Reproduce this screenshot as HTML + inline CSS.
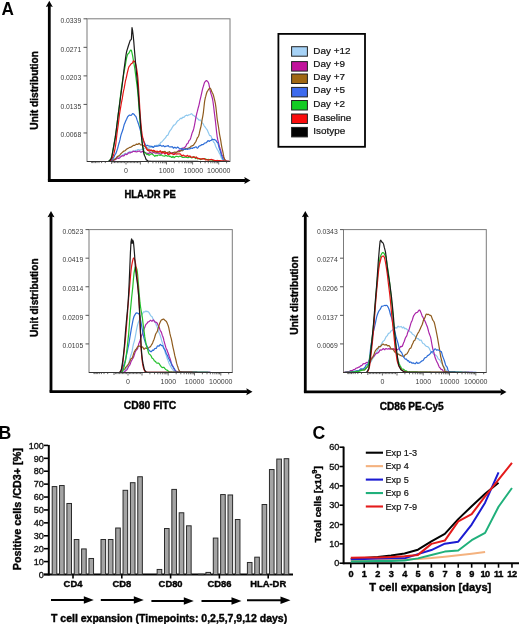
<!DOCTYPE html><html><head><meta charset="utf-8"><style>html,body{margin:0;padding:0;background:#fff;}svg{display:block;}</style></head><body><svg width="520" height="624" viewBox="0 0 520 624" font-family='"Liberation Sans", sans-serif'>
<rect width="520" height="624" fill="#fff"/>
<g opacity="0.995">
<text x="1.5" y="14.9" font-size="18" font-weight="bold" textLength="12.4" lengthAdjust="spacingAndGlyphs">A</text>
<text x="-1.5" y="439" font-size="17.7" font-weight="bold">B</text>
<text x="312.6" y="438.5" font-size="17.7" font-weight="bold">C</text>
<line x1="49.3" y1="180.5" x2="49.3" y2="5.8" stroke="#000" stroke-width="2.8"/>
<polygon points="45.8,7.0 49.3,0.8 52.8,7.0 49.3,6.0" fill="#000"/>
<line x1="47.9" y1="180.5" x2="245.5" y2="180.5" stroke="#000" stroke-width="2.8"/>
<polygon points="244.3,177.0 250.5,180.5 244.3,184.0 245.3,180.5" fill="#000"/>
<rect x="87" y="18.8" width="143" height="142.7" fill="none" stroke="#7a7a7a" stroke-width="1"/>
<line x1="83.5" y1="18.80" x2="87" y2="18.80" stroke="#555" stroke-width="1"/>
<text x="81.2" y="23.1" font-size="6.8" font-weight="normal" text-anchor="end" fill="#3a3a3a"  >0.0339</text>
<line x1="83.5" y1="47.34" x2="87" y2="47.34" stroke="#555" stroke-width="1"/>
<text x="81.2" y="51.64" font-size="6.8" font-weight="normal" text-anchor="end" fill="#3a3a3a"  >0.0271</text>
<line x1="83.5" y1="75.88" x2="87" y2="75.88" stroke="#555" stroke-width="1"/>
<text x="81.2" y="80.18" font-size="6.8" font-weight="normal" text-anchor="end" fill="#3a3a3a"  >0.0203</text>
<line x1="83.5" y1="104.42" x2="87" y2="104.42" stroke="#555" stroke-width="1"/>
<text x="81.2" y="108.72" font-size="6.8" font-weight="normal" text-anchor="end" fill="#3a3a3a"  >0.0135</text>
<line x1="83.5" y1="132.96" x2="87" y2="132.96" stroke="#555" stroke-width="1"/>
<text x="81.2" y="137.26" font-size="6.8" font-weight="normal" text-anchor="end" fill="#3a3a3a"  >0.0068</text>
<line x1="140.4" y1="161.5" x2="140.4" y2="164.5" stroke="#444" stroke-width="0.8"/>
<line x1="148.3" y1="161.5" x2="148.3" y2="163.3" stroke="#444" stroke-width="0.8"/>
<line x1="152.9" y1="161.5" x2="152.9" y2="163.3" stroke="#444" stroke-width="0.8"/>
<line x1="156.1" y1="161.5" x2="156.1" y2="163.3" stroke="#444" stroke-width="0.8"/>
<line x1="158.6" y1="161.5" x2="158.6" y2="163.3" stroke="#444" stroke-width="0.8"/>
<line x1="160.7" y1="161.5" x2="160.7" y2="163.3" stroke="#444" stroke-width="0.8"/>
<line x1="162.5" y1="161.5" x2="162.5" y2="163.3" stroke="#444" stroke-width="0.8"/>
<line x1="164.0" y1="161.5" x2="164.0" y2="163.3" stroke="#444" stroke-width="0.8"/>
<line x1="165.3" y1="161.5" x2="165.3" y2="163.3" stroke="#444" stroke-width="0.8"/>
<line x1="166.5" y1="161.5" x2="166.5" y2="164.5" stroke="#444" stroke-width="0.8"/>
<line x1="174.4" y1="161.5" x2="174.4" y2="163.3" stroke="#444" stroke-width="0.8"/>
<line x1="179.0" y1="161.5" x2="179.0" y2="163.3" stroke="#444" stroke-width="0.8"/>
<line x1="182.2" y1="161.5" x2="182.2" y2="163.3" stroke="#444" stroke-width="0.8"/>
<line x1="184.7" y1="161.5" x2="184.7" y2="163.3" stroke="#444" stroke-width="0.8"/>
<line x1="186.8" y1="161.5" x2="186.8" y2="163.3" stroke="#444" stroke-width="0.8"/>
<line x1="188.6" y1="161.5" x2="188.6" y2="163.3" stroke="#444" stroke-width="0.8"/>
<line x1="190.1" y1="161.5" x2="190.1" y2="163.3" stroke="#444" stroke-width="0.8"/>
<line x1="191.4" y1="161.5" x2="191.4" y2="163.3" stroke="#444" stroke-width="0.8"/>
<line x1="192.6" y1="161.5" x2="192.6" y2="164.5" stroke="#444" stroke-width="0.8"/>
<line x1="200.5" y1="161.5" x2="200.5" y2="163.3" stroke="#444" stroke-width="0.8"/>
<line x1="205.1" y1="161.5" x2="205.1" y2="163.3" stroke="#444" stroke-width="0.8"/>
<line x1="208.3" y1="161.5" x2="208.3" y2="163.3" stroke="#444" stroke-width="0.8"/>
<line x1="210.8" y1="161.5" x2="210.8" y2="163.3" stroke="#444" stroke-width="0.8"/>
<line x1="212.9" y1="161.5" x2="212.9" y2="163.3" stroke="#444" stroke-width="0.8"/>
<line x1="214.7" y1="161.5" x2="214.7" y2="163.3" stroke="#444" stroke-width="0.8"/>
<line x1="216.2" y1="161.5" x2="216.2" y2="163.3" stroke="#444" stroke-width="0.8"/>
<line x1="217.5" y1="161.5" x2="217.5" y2="163.3" stroke="#444" stroke-width="0.8"/>
<line x1="218.7" y1="161.5" x2="218.7" y2="164.5" stroke="#444" stroke-width="0.8"/>
<line x1="226.6" y1="161.5" x2="226.6" y2="163.3" stroke="#444" stroke-width="0.8"/>
<line x1="126.0" y1="161.5" x2="126.0" y2="164.5" stroke="#444" stroke-width="0.8"/>
<line x1="127.4" y1="161.5" x2="127.4" y2="163.1" stroke="#444" stroke-width="0.8"/>
<line x1="128.9" y1="161.5" x2="128.9" y2="163.1" stroke="#444" stroke-width="0.8"/>
<line x1="130.3" y1="161.5" x2="130.3" y2="163.1" stroke="#444" stroke-width="0.8"/>
<line x1="131.8" y1="161.5" x2="131.8" y2="163.1" stroke="#444" stroke-width="0.8"/>
<line x1="133.2" y1="161.5" x2="133.2" y2="163.1" stroke="#444" stroke-width="0.8"/>
<line x1="134.6" y1="161.5" x2="134.6" y2="163.1" stroke="#444" stroke-width="0.8"/>
<line x1="136.1" y1="161.5" x2="136.1" y2="163.1" stroke="#444" stroke-width="0.8"/>
<line x1="137.5" y1="161.5" x2="137.5" y2="163.1" stroke="#444" stroke-width="0.8"/>
<line x1="139.0" y1="161.5" x2="139.0" y2="163.1" stroke="#444" stroke-width="0.8"/>
<line x1="111.6" y1="161.5" x2="111.6" y2="164.0" stroke="#444" stroke-width="0.8"/>
<line x1="105.3" y1="161.5" x2="105.3" y2="163.1" stroke="#444" stroke-width="0.8"/>
<line x1="101.6" y1="161.5" x2="101.6" y2="163.1" stroke="#444" stroke-width="0.8"/>
<line x1="99.0" y1="161.5" x2="99.0" y2="163.1" stroke="#444" stroke-width="0.8"/>
<line x1="97.0" y1="161.5" x2="97.0" y2="163.1" stroke="#444" stroke-width="0.8"/>
<line x1="95.4" y1="161.5" x2="95.4" y2="163.1" stroke="#444" stroke-width="0.8"/>
<line x1="94.0" y1="161.5" x2="94.0" y2="163.1" stroke="#444" stroke-width="0.8"/>
<line x1="92.7" y1="161.5" x2="92.7" y2="163.1" stroke="#444" stroke-width="0.8"/>
<line x1="91.7" y1="161.5" x2="91.7" y2="163.1" stroke="#444" stroke-width="0.8"/>
<line x1="124.6" y1="161.5" x2="124.6" y2="163.1" stroke="#444" stroke-width="0.8"/>
<line x1="123.1" y1="161.5" x2="123.1" y2="163.1" stroke="#444" stroke-width="0.8"/>
<line x1="121.7" y1="161.5" x2="121.7" y2="163.1" stroke="#444" stroke-width="0.8"/>
<line x1="120.2" y1="161.5" x2="120.2" y2="163.1" stroke="#444" stroke-width="0.8"/>
<line x1="118.8" y1="161.5" x2="118.8" y2="163.1" stroke="#444" stroke-width="0.8"/>
<line x1="117.4" y1="161.5" x2="117.4" y2="163.1" stroke="#444" stroke-width="0.8"/>
<line x1="115.9" y1="161.5" x2="115.9" y2="163.1" stroke="#444" stroke-width="0.8"/>
<line x1="114.5" y1="161.5" x2="114.5" y2="163.1" stroke="#444" stroke-width="0.8"/>
<line x1="113.0" y1="161.5" x2="113.0" y2="163.1" stroke="#444" stroke-width="0.8"/>
<text x="126" y="173.4" font-size="7.0" font-weight="normal" text-anchor="middle" fill="#3a3a3a"  >0</text>
<text x="166.6" y="173.4" font-size="7.0" font-weight="normal" text-anchor="middle" fill="#3a3a3a"  >1000</text>
<text x="193.3" y="173.4" font-size="7.0" font-weight="normal" text-anchor="middle" fill="#3a3a3a"  >10000</text>
<text x="218.8" y="173.4" font-size="7.0" font-weight="normal" text-anchor="middle" fill="#3a3a3a"  >100000</text>
<path d="M87.00,161.50 L87.60,161.50 L88.20,161.50 L88.80,161.50 L89.40,161.50 L90.00,161.50 L90.60,161.50 L91.20,161.50 L91.80,161.50 L92.40,161.50 L93.00,161.50 L93.60,161.50 L94.20,161.50 L94.80,161.50 L95.40,161.50 L96.00,161.50 L96.60,161.50 L97.20,161.50 L97.80,161.50 L98.40,161.50 L99.00,161.50 L99.60,161.50 L100.20,161.50 L100.80,161.50 L101.40,161.50 L102.00,161.50 L102.60,161.50 L103.20,161.50 L103.80,161.50 L104.40,161.50 L105.00,161.50 L105.60,161.50 L106.20,161.50 L106.80,161.50 L107.40,161.50 L108.00,161.50 L108.60,161.50 L109.20,161.49 L109.80,161.35 L110.40,161.08 L111.00,160.76 L111.60,160.30 L112.20,159.79 L112.80,159.63 L113.40,159.44 L114.00,158.88 L114.60,158.73 L115.20,158.45 L115.80,158.22 L116.40,158.54 L117.00,157.94 L117.60,156.88 L118.20,156.81 L118.80,156.84 L119.40,156.54 L120.00,156.31 L120.60,156.07 L121.20,156.11 L121.80,155.88 L122.40,155.11 L123.00,154.66 L123.60,154.44 L124.20,154.04 L124.80,153.51 L125.40,153.34 L126.00,153.60 L126.60,153.93 L127.20,153.52 L127.80,152.46 L128.40,152.25 L129.00,152.19 L129.60,151.51 L130.20,151.46 L130.80,151.99 L131.40,152.30 L132.00,151.96 L132.60,151.26 L133.20,150.90 L133.80,151.14 L134.40,151.33 L135.00,150.78 L135.60,150.42 L136.20,150.47 L136.80,150.26 L137.40,149.81 L138.00,149.51 L138.60,149.55 L139.20,149.78 L139.80,150.11 L140.40,149.96 L141.00,149.60 L141.60,149.41 L142.20,149.30 L142.80,149.32 L143.40,149.16 L144.00,148.69 L144.60,148.26 L145.20,148.00 L145.80,147.32 L146.40,147.00 L147.00,147.39 L147.60,147.59 L148.20,148.19 L148.80,148.50 L149.40,147.61 L150.00,147.11 L150.60,147.41 L151.20,147.41 L151.80,147.04 L152.40,146.91 L153.00,147.07 L153.60,146.70 L154.20,146.06 L154.80,145.97 L155.40,145.80 L156.00,145.45 L156.60,145.32 L157.20,145.26 L157.80,145.37 L158.40,145.13 L159.00,144.50 L159.60,143.98 L160.20,143.31 L160.80,142.38 L161.40,142.10 L162.00,141.74 L162.60,140.93 L163.20,140.35 L163.80,139.61 L164.40,138.95 L165.00,138.31 L165.60,137.70 L166.20,136.64 L166.80,135.57 L167.40,135.52 L168.00,134.95 L168.60,133.42 L169.20,132.12 L169.80,131.02 L170.40,130.21 L171.00,129.64 L171.60,128.62 L172.20,127.51 L172.80,126.56 L173.40,125.57 L174.00,125.07 L174.60,124.91 L175.20,124.34 L175.80,123.60 L176.40,122.63 L177.00,121.59 L177.60,120.97 L178.20,120.54 L178.80,120.16 L179.40,119.66 L180.00,118.96 L180.60,118.23 L181.20,118.33 L181.80,118.59 L182.40,117.71 L183.00,117.03 L183.60,117.41 L184.20,117.24 L184.80,116.27 L185.40,115.84 L186.00,115.43 L186.60,115.15 L187.20,115.54 L187.80,115.54 L188.40,115.06 L189.00,114.80 L189.60,114.74 L190.20,114.47 L190.80,114.09 L191.40,113.69 L192.00,114.03 L192.60,114.91 L193.20,115.24 L193.80,115.61 L194.40,116.10 L195.00,116.40 L195.60,117.03 L196.20,117.73 L196.80,118.01 L197.40,118.29 L198.00,119.00 L198.60,119.78 L199.20,120.15 L199.80,120.17 L200.40,120.05 L201.00,120.52 L201.60,121.91 L202.20,122.87 L202.80,123.35 L203.40,124.30 L204.00,125.44 L204.60,126.46 L205.20,127.18 L205.80,127.99 L206.40,128.90 L207.00,129.60 L207.60,130.84 L208.20,132.24 L208.80,133.60 L209.40,135.10 L210.00,135.73 L210.60,135.62 L211.20,136.53 L211.80,138.24 L212.40,139.42 L213.00,140.85 L213.60,142.14 L214.20,142.46 L214.80,143.48 L215.40,145.50 L216.00,147.06 L216.60,148.21 L217.20,149.33 L217.80,150.13 L218.40,151.18 L219.00,152.62 L219.60,153.58 L220.20,154.69 L220.80,156.42 L221.40,157.93 L222.00,158.96 L222.60,159.84 L223.20,160.52 L223.80,160.75 L224.40,160.92 L225.00,161.07 L225.60,161.17 L226.20,161.27 L226.80,161.36 L227.40,161.41 L228.00,161.44 L228.60,161.47 L229.20,161.49 L229.80,161.50" fill="none" stroke="#8ec8ee" stroke-width="1.2" stroke-linejoin="round"/>
<path d="M87.00,161.50 L87.60,161.50 L88.20,161.50 L88.80,161.50 L89.40,161.50 L90.00,161.50 L90.60,161.50 L91.20,161.50 L91.80,161.50 L92.40,161.50 L93.00,161.50 L93.60,161.50 L94.20,161.50 L94.80,161.50 L95.40,161.50 L96.00,161.50 L96.60,161.50 L97.20,161.50 L97.80,161.50 L98.40,161.50 L99.00,161.50 L99.60,161.50 L100.20,161.50 L100.80,161.50 L101.40,161.50 L102.00,161.50 L102.60,161.50 L103.20,161.50 L103.80,161.50 L104.40,161.50 L105.00,161.50 L105.60,161.50 L106.20,161.50 L106.80,161.50 L107.40,161.50 L108.00,161.50 L108.60,161.50 L109.20,161.50 L109.80,161.50 L110.40,161.47 L111.00,161.36 L111.60,161.15 L112.20,160.85 L112.80,160.55 L113.40,160.34 L114.00,160.18 L114.60,159.85 L115.20,159.60 L115.80,159.43 L116.40,158.85 L117.00,158.07 L117.60,157.83 L118.20,158.33 L118.80,158.46 L119.40,157.98 L120.00,157.45 L120.60,156.89 L121.20,156.43 L121.80,155.99 L122.40,155.70 L123.00,155.83 L123.60,156.01 L124.20,155.53 L124.80,154.73 L125.40,154.13 L126.00,154.21 L126.60,154.63 L127.20,154.32 L127.80,153.63 L128.40,153.01 L129.00,152.63 L129.60,152.88 L130.20,153.02 L130.80,152.55 L131.40,152.19 L132.00,152.13 L132.60,151.77 L133.20,151.29 L133.80,151.23 L134.40,151.46 L135.00,151.57 L135.60,151.41 L136.20,151.73 L136.80,151.97 L137.40,151.36 L138.00,151.05 L138.60,151.29 L139.20,151.21 L139.80,151.10 L140.40,151.84 L141.00,152.35 L141.60,151.85 L142.20,151.40 L142.80,151.53 L143.40,151.80 L144.00,151.65 L144.60,152.01 L145.20,152.63 L145.80,152.68 L146.40,153.17 L147.00,153.53 L147.60,153.21 L148.20,153.39 L148.80,153.61 L149.40,152.98 L150.00,152.26 L150.60,152.18 L151.20,152.90 L151.80,153.67 L152.40,153.39 L153.00,152.56 L153.60,152.31 L154.20,152.65 L154.80,152.97 L155.40,153.04 L156.00,153.15 L156.60,153.18 L157.20,153.04 L157.80,153.11 L158.40,153.23 L159.00,153.31 L159.60,153.79 L160.20,154.23 L160.80,153.92 L161.40,153.12 L162.00,152.76 L162.60,152.79 L163.20,152.39 L163.80,152.61 L164.40,153.60 L165.00,153.82 L165.60,153.14 L166.20,152.60 L166.80,152.76 L167.40,153.15 L168.00,153.92 L168.60,154.41 L169.20,153.69 L169.80,152.78 L170.40,152.62 L171.00,152.92 L171.60,152.87 L172.20,152.67 L172.80,152.68 L173.40,152.83 L174.00,153.43 L174.60,153.78 L175.20,153.33 L175.80,152.72 L176.40,152.44 L177.00,152.07 L177.60,151.55 L178.20,151.01 L178.80,150.28 L179.40,150.15 L180.00,150.49 L180.60,150.29 L181.20,150.05 L181.80,149.52 L182.40,148.36 L183.00,147.94 L183.60,148.08 L184.20,147.69 L184.80,147.15 L185.40,146.80 L186.00,145.82 L186.60,144.40 L187.20,143.72 L187.80,143.45 L188.40,142.14 L189.00,140.65 L189.60,140.12 L190.20,139.34 L190.80,137.71 L191.40,135.58 L192.00,133.34 L192.60,131.87 L193.20,130.60 L193.80,128.44 L194.40,125.65 L195.00,122.50 L195.60,119.10 L196.20,115.84 L196.80,113.42 L197.40,111.15 L198.00,108.55 L198.60,106.54 L199.20,104.11 L199.80,101.17 L200.40,98.65 L201.00,96.14 L201.60,93.41 L202.20,90.57 L202.80,88.15 L203.40,86.24 L204.00,84.07 L204.60,82.30 L205.20,81.57 L205.80,80.99 L206.40,80.53 L207.00,80.86 L207.60,81.39 L208.20,82.23 L208.80,83.75 L209.40,86.59 L210.00,89.94 L210.60,92.46 L211.20,94.43 L211.80,96.23 L212.40,98.40 L213.00,101.74 L213.60,106.22 L214.20,111.36 L214.80,116.24 L215.40,120.90 L216.00,126.52 L216.60,132.25 L217.20,136.86 L217.80,139.92 L218.40,142.39 L219.00,144.82 L219.60,147.30 L220.20,149.02 L220.80,150.73 L221.40,153.36 L222.00,155.24 L222.60,155.82 L223.20,156.71 L223.80,158.03 L224.40,159.11 L225.00,159.98 L225.60,160.60 L226.20,161.07 L226.80,161.24 L227.40,161.33 L228.00,161.40 L228.60,161.44 L229.20,161.48 L229.80,161.50" fill="none" stroke="#aa24a8" stroke-width="1.2" stroke-linejoin="round"/>
<path d="M87.00,161.50 L87.60,161.50 L88.20,161.50 L88.80,161.50 L89.40,161.50 L90.00,161.50 L90.60,161.50 L91.20,161.50 L91.80,161.50 L92.40,161.50 L93.00,161.50 L93.60,161.50 L94.20,161.50 L94.80,161.50 L95.40,161.50 L96.00,161.50 L96.60,161.50 L97.20,161.50 L97.80,161.50 L98.40,161.50 L99.00,161.50 L99.60,161.50 L100.20,161.50 L100.80,161.50 L101.40,161.50 L102.00,161.50 L102.60,161.50 L103.20,161.50 L103.80,161.50 L104.40,161.50 L105.00,161.50 L105.60,161.50 L106.20,161.50 L106.80,161.50 L107.40,161.50 L108.00,161.50 L108.60,161.50 L109.20,161.50 L109.80,161.50 L110.40,161.50 L111.00,161.50 L111.60,161.39 L112.20,161.10 L112.80,160.67 L113.40,160.17 L114.00,159.65 L114.60,159.30 L115.20,158.94 L115.80,158.45 L116.40,157.81 L117.00,156.96 L117.60,156.42 L118.20,156.10 L118.80,155.77 L119.40,155.48 L120.00,154.77 L120.60,153.97 L121.20,153.47 L121.80,152.81 L122.40,152.36 L123.00,151.75 L123.60,151.01 L124.20,151.03 L124.80,150.94 L125.40,150.31 L126.00,149.72 L126.60,149.17 L127.20,148.69 L127.80,148.43 L128.40,148.23 L129.00,147.82 L129.60,147.38 L130.20,147.35 L130.80,147.22 L131.40,146.71 L132.00,146.41 L132.60,145.97 L133.20,145.36 L133.80,145.38 L134.40,145.40 L135.00,145.10 L135.60,144.70 L136.20,144.21 L136.80,144.17 L137.40,144.42 L138.00,144.33 L138.60,143.75 L139.20,143.36 L139.80,143.95 L140.40,144.76 L141.00,145.04 L141.60,144.81 L142.20,144.91 L142.80,145.73 L143.40,145.71 L144.00,145.53 L144.60,146.25 L145.20,146.54 L145.80,146.79 L146.40,147.88 L147.00,148.88 L147.60,149.20 L148.20,149.88 L148.80,150.98 L149.40,151.22 L150.00,150.73 L150.60,150.31 L151.20,150.16 L151.80,150.56 L152.40,151.27 L153.00,151.56 L153.60,151.74 L154.20,151.79 L154.80,151.51 L155.40,151.69 L156.00,152.20 L156.60,152.47 L157.20,152.56 L157.80,152.30 L158.40,152.06 L159.00,151.95 L159.60,151.45 L160.20,151.41 L160.80,152.08 L161.40,152.38 L162.00,152.03 L162.60,151.60 L163.20,151.71 L163.80,151.86 L164.40,151.46 L165.00,151.26 L165.60,152.01 L166.20,152.81 L166.80,152.67 L167.40,152.30 L168.00,152.51 L168.60,152.24 L169.20,151.52 L169.80,152.01 L170.40,152.83 L171.00,153.20 L171.60,153.49 L172.20,153.25 L172.80,152.75 L173.40,152.60 L174.00,152.45 L174.60,152.02 L175.20,152.04 L175.80,152.62 L176.40,152.69 L177.00,151.96 L177.60,151.51 L178.20,151.73 L178.80,151.83 L179.40,151.68 L180.00,151.39 L180.60,150.73 L181.20,150.39 L181.80,150.56 L182.40,150.81 L183.00,150.39 L183.60,149.32 L184.20,149.07 L184.80,149.25 L185.40,148.68 L186.00,148.40 L186.60,148.88 L187.20,148.92 L187.80,148.37 L188.40,148.03 L189.00,147.94 L189.60,147.74 L190.20,147.34 L190.80,146.52 L191.40,146.02 L192.00,145.90 L192.60,145.61 L193.20,145.44 L193.80,144.77 L194.40,143.68 L195.00,142.84 L195.60,142.02 L196.20,140.89 L196.80,139.17 L197.40,137.75 L198.00,137.04 L198.60,136.02 L199.20,133.96 L199.80,131.17 L200.40,128.75 L201.00,126.32 L201.60,122.80 L202.20,119.17 L202.80,116.11 L203.40,112.29 L204.00,106.69 L204.60,101.33 L205.20,98.26 L205.80,96.14 L206.40,93.77 L207.00,91.94 L207.60,91.00 L208.20,90.03 L208.80,89.06 L209.40,88.42 L210.00,88.17 L210.60,88.65 L211.20,90.04 L211.80,91.82 L212.40,92.95 L213.00,94.05 L213.60,95.91 L214.20,98.37 L214.80,100.84 L215.40,103.73 L216.00,107.94 L216.60,113.54 L217.20,119.05 L217.80,122.85 L218.40,126.23 L219.00,130.52 L219.60,134.57 L220.20,137.56 L220.80,140.90 L221.40,144.81 L222.00,148.12 L222.60,150.73 L223.20,153.50 L223.80,156.68 L224.40,158.83 L225.00,159.79 L225.60,160.81 L226.20,161.20 L226.80,161.31 L227.40,161.39 L228.00,161.44 L228.60,161.47 L229.20,161.49 L229.80,161.50" fill="none" stroke="#8e5a1c" stroke-width="1.2" stroke-linejoin="round"/>
<path d="M87.00,161.50 L87.60,161.50 L88.20,161.50 L88.80,161.50 L89.40,161.50 L90.00,161.50 L90.60,161.50 L91.20,161.50 L91.80,161.50 L92.40,161.50 L93.00,161.50 L93.60,161.50 L94.20,161.50 L94.80,161.50 L95.40,161.50 L96.00,161.50 L96.60,161.50 L97.20,161.50 L97.80,161.50 L98.40,161.50 L99.00,161.50 L99.60,161.50 L100.20,161.50 L100.80,161.50 L101.40,161.50 L102.00,161.50 L102.60,161.50 L103.20,161.50 L103.80,161.50 L104.40,161.50 L105.00,161.50 L105.60,161.50 L106.20,161.50 L106.80,161.50 L107.40,161.50 L108.00,161.50 L108.60,161.50 L109.20,161.50 L109.80,161.50 L110.40,161.50 L111.00,161.25 L111.60,160.66 L112.20,159.65 L112.80,158.57 L113.40,157.99 L114.00,156.94 L114.60,155.41 L115.20,154.50 L115.80,153.70 L116.40,152.05 L117.00,150.35 L117.60,148.50 L118.20,146.05 L118.80,143.78 L119.40,141.94 L120.00,139.67 L120.60,136.68 L121.20,134.30 L121.80,132.73 L122.40,131.05 L123.00,129.28 L123.60,126.97 L124.20,124.59 L124.80,123.19 L125.40,121.75 L126.00,120.35 L126.60,119.31 L127.20,117.75 L127.80,116.52 L128.40,115.99 L129.00,115.36 L129.60,115.11 L130.20,115.24 L130.80,115.38 L131.40,115.28 L132.00,114.38 L132.60,113.60 L133.20,113.76 L133.80,114.12 L134.40,114.77 L135.00,115.71 L135.60,116.11 L136.20,117.10 L136.80,119.15 L137.40,120.90 L138.00,122.48 L138.60,124.34 L139.20,126.21 L139.80,128.29 L140.40,130.54 L141.00,132.60 L141.60,134.89 L142.20,137.05 L142.80,138.84 L143.40,140.68 L144.00,142.17 L144.60,143.12 L145.20,144.17 L145.80,145.57 L146.40,145.91 L147.00,145.33 L147.60,145.24 L148.20,145.80 L148.80,146.08 L149.40,146.06 L150.00,146.15 L150.60,146.28 L151.20,146.38 L151.80,146.27 L152.40,146.51 L153.00,147.38 L153.60,147.51 L154.20,146.52 L154.80,145.94 L155.40,146.23 L156.00,146.41 L156.60,146.09 L157.20,146.06 L157.80,146.17 L158.40,145.88 L159.00,145.78 L159.60,145.64 L160.20,145.21 L160.80,145.34 L161.40,145.98 L162.00,146.33 L162.60,145.98 L163.20,145.53 L163.80,145.98 L164.40,146.68 L165.00,146.70 L165.60,146.23 L166.20,146.07 L166.80,146.27 L167.40,145.96 L168.00,145.56 L168.60,146.04 L169.20,146.78 L169.80,146.98 L170.40,146.85 L171.00,146.76 L171.60,146.79 L172.20,146.67 L172.80,147.20 L173.40,148.15 L174.00,147.88 L174.60,147.26 L175.20,147.39 L175.80,147.95 L176.40,148.18 L177.00,147.54 L177.60,147.09 L178.20,147.57 L178.80,148.08 L179.40,148.50 L180.00,148.89 L180.60,148.91 L181.20,148.61 L181.80,148.42 L182.40,149.15 L183.00,149.84 L183.60,149.53 L184.20,149.10 L184.80,149.33 L185.40,149.47 L186.00,148.92 L186.60,148.84 L187.20,149.31 L187.80,149.30 L188.40,149.01 L189.00,148.91 L189.60,148.82 L190.20,148.72 L190.80,148.37 L191.40,148.00 L192.00,148.28 L192.60,148.33 L193.20,147.75 L193.80,147.68 L194.40,147.67 L195.00,147.24 L195.60,146.97 L196.20,146.96 L196.80,147.60 L197.40,148.21 L198.00,147.62 L198.60,146.59 L199.20,146.12 L199.80,145.77 L200.40,145.64 L201.00,145.34 L201.60,144.67 L202.20,144.53 L202.80,144.57 L203.40,144.40 L204.00,143.73 L204.60,143.02 L205.20,143.00 L205.80,142.91 L206.40,142.50 L207.00,142.03 L207.60,141.09 L208.20,140.57 L208.80,141.15 L209.40,141.32 L210.00,140.78 L210.60,140.55 L211.20,140.36 L211.80,139.67 L212.40,139.18 L213.00,139.48 L213.60,139.56 L214.20,139.40 L214.80,139.85 L215.40,140.00 L216.00,140.52 L216.60,141.78 L217.20,142.23 L217.80,142.86 L218.40,144.86 L219.00,147.44 L219.60,149.37 L220.20,150.76 L220.80,152.86 L221.40,155.00 L222.00,156.67 L222.60,158.22 L223.20,159.53 L223.80,160.62 L224.40,161.26 L225.00,161.34 L225.60,161.38 L226.20,161.41 L226.80,161.44 L227.40,161.47 L228.00,161.48 L228.60,161.49 L229.20,161.50 L229.80,161.50" fill="none" stroke="#2b6bd6" stroke-width="1.2" stroke-linejoin="round"/>
<path d="M87.00,161.50 L87.60,161.50 L88.20,161.50 L88.80,161.50 L89.40,161.50 L90.00,161.50 L90.60,161.50 L91.20,161.50 L91.80,161.50 L92.40,161.50 L93.00,161.50 L93.60,161.50 L94.20,161.50 L94.80,161.50 L95.40,161.50 L96.00,161.50 L96.60,161.50 L97.20,161.50 L97.80,161.50 L98.40,161.50 L99.00,161.50 L99.60,161.50 L100.20,161.50 L100.80,161.50 L101.40,161.50 L102.00,161.50 L102.60,161.50 L103.20,161.50 L103.80,161.50 L104.40,161.50 L105.00,161.50 L105.60,161.50 L106.20,161.50 L106.80,161.50 L107.40,161.50 L108.00,161.50 L108.60,161.42 L109.20,161.01 L109.80,160.29 L110.40,159.37 L111.00,158.50 L111.60,157.04 L112.20,154.23 L112.80,150.82 L113.40,147.60 L114.00,144.35 L114.60,140.94 L115.20,137.63 L115.80,133.76 L116.40,129.68 L117.00,124.91 L117.60,119.41 L118.20,114.41 L118.80,109.74 L119.40,104.90 L120.00,100.04 L120.60,94.87 L121.20,89.89 L121.80,85.47 L122.40,81.50 L123.00,78.13 L123.60,74.63 L124.20,71.13 L124.80,68.21 L125.40,64.88 L126.00,61.04 L126.60,57.87 L127.20,55.64 L127.80,54.07 L128.40,53.46 L129.00,52.93 L129.60,51.68 L130.20,50.63 L130.80,50.04 L131.40,50.36 L132.00,52.92 L132.60,55.58 L133.20,59.07 L133.80,62.67 L134.40,66.06 L135.00,69.98 L135.60,74.62 L136.20,79.48 L136.80,83.95 L137.40,88.64 L138.00,94.66 L138.60,102.47 L139.20,110.45 L139.80,118.51 L140.40,126.64 L141.00,132.88 L141.60,138.14 L142.20,142.72 L142.80,145.86 L143.40,149.23 L144.00,152.15 L144.60,152.88 L145.20,152.64 L145.80,153.08 L146.40,154.11 L147.00,154.66 L147.60,154.34 L148.20,154.43 L148.80,155.15 L149.40,155.26 L150.00,154.66 L150.60,154.06 L151.20,153.95 L151.80,153.95 L152.40,154.15 L153.00,154.82 L153.60,155.13 L154.20,155.63 L154.80,156.32 L155.40,155.90 L156.00,155.29 L156.60,155.74 L157.20,155.93 L157.80,155.23 L158.40,154.98 L159.00,155.02 L159.60,155.26 L160.20,155.46 L160.80,154.82 L161.40,154.78 L162.00,155.43 L162.60,155.73 L163.20,155.96 L163.80,156.02 L164.40,156.16 L165.00,155.98 L165.60,155.41 L166.20,155.50 L166.80,155.85 L167.40,156.10 L168.00,156.11 L168.60,155.76 L169.20,155.96 L169.80,156.53 L170.40,156.46 L171.00,156.53 L171.60,157.50 L172.20,157.42 L172.80,156.35 L173.40,156.77 L174.00,157.69 L174.60,157.36 L175.20,156.73 L175.80,156.41 L176.40,156.29 L177.00,156.32 L177.60,156.54 L178.20,156.80 L178.80,156.63 L179.40,156.27 L180.00,156.22 L180.60,156.40 L181.20,156.47 L181.80,156.88 L182.40,157.41 L183.00,157.46 L183.60,157.39 L184.20,157.34 L184.80,157.20 L185.40,157.08 L186.00,157.23 L186.60,157.30 L187.20,157.30 L187.80,157.69 L188.40,157.55 L189.00,157.07 L189.60,157.04 L190.20,157.24 L190.80,157.41 L191.40,157.64 L192.00,157.87 L192.60,157.28 L193.20,156.72 L193.80,156.85 L194.40,157.09 L195.00,157.82 L195.60,158.53 L196.20,158.29 L196.80,157.71 L197.40,158.06 L198.00,158.79 L198.60,158.74 L199.20,158.63 L199.80,159.17 L200.40,159.62 L201.00,159.36 L201.60,158.96 L202.20,158.96 L202.80,158.96 L203.40,158.68 L204.00,158.63 L204.60,158.81 L205.20,158.90 L205.80,159.09 L206.40,159.55 L207.00,159.78 L207.60,159.50 L208.20,159.41 L208.80,159.63 L209.40,159.89 L210.00,160.03 L210.60,159.93 L211.20,159.86 L211.80,159.95 L212.40,160.24 L213.00,160.55 L213.60,160.66 L214.20,160.72 L214.80,160.87 L215.40,161.03 L216.00,161.13 L216.60,161.18 L217.20,161.22 L217.80,161.24 L218.40,161.29 L219.00,161.33 L219.60,161.32 L220.20,161.35 L220.80,161.38 L221.40,161.39 L222.00,161.40 L222.60,161.42 L223.20,161.43 L223.80,161.44 L224.40,161.44 L225.00,161.46 L225.60,161.47 L226.20,161.48 L226.80,161.48 L227.40,161.49 L228.00,161.49 L228.60,161.50 L229.20,161.50 L229.80,161.50" fill="none" stroke="#22c02a" stroke-width="1.2" stroke-linejoin="round"/>
<path d="M87.00,161.50 L87.60,161.50 L88.20,161.50 L88.80,161.50 L89.40,161.50 L90.00,161.50 L90.60,161.50 L91.20,161.50 L91.80,161.50 L92.40,161.50 L93.00,161.50 L93.60,161.50 L94.20,161.50 L94.80,161.50 L95.40,161.50 L96.00,161.50 L96.60,161.50 L97.20,161.50 L97.80,161.50 L98.40,161.50 L99.00,161.50 L99.60,161.50 L100.20,161.50 L100.80,161.50 L101.40,161.50 L102.00,161.50 L102.60,161.50 L103.20,161.50 L103.80,161.50 L104.40,161.50 L105.00,161.50 L105.60,161.50 L106.20,161.50 L106.80,161.50 L107.40,161.50 L108.00,161.50 L108.60,161.50 L109.20,161.49 L109.80,161.28 L110.40,160.87 L111.00,160.04 L111.60,158.80 L112.20,157.93 L112.80,156.93 L113.40,155.34 L114.00,153.42 L114.60,150.65 L115.20,147.78 L115.80,143.99 L116.40,138.67 L117.00,133.41 L117.60,129.18 L118.20,124.91 L118.80,119.88 L119.40,114.90 L120.00,111.15 L120.60,107.66 L121.20,104.00 L121.80,100.95 L122.40,97.77 L123.00,93.82 L123.60,90.63 L124.20,88.14 L124.80,84.61 L125.40,81.21 L126.00,78.93 L126.60,76.33 L127.20,73.43 L127.80,70.94 L128.40,68.42 L129.00,66.57 L129.60,65.92 L130.20,65.22 L130.80,64.23 L131.40,63.55 L132.00,63.37 L132.60,62.77 L133.20,61.01 L133.80,60.97 L134.40,61.39 L135.00,62.15 L135.60,63.66 L136.20,66.15 L136.80,69.58 L137.40,73.47 L138.00,79.33 L138.60,88.57 L139.20,98.25 L139.80,108.40 L140.40,117.50 L141.00,124.47 L141.60,130.63 L142.20,135.19 L142.80,137.87 L143.40,139.79 L144.00,141.95 L144.60,144.56 L145.20,146.54 L145.80,147.56 L146.40,148.60 L147.00,149.64 L147.60,150.30 L148.20,150.30 L148.80,149.91 L149.40,149.89 L150.00,150.16 L150.60,150.24 L151.20,150.19 L151.80,150.69 L152.40,150.88 L153.00,150.36 L153.60,150.34 L154.20,150.58 L154.80,151.02 L155.40,151.44 L156.00,151.49 L156.60,151.28 L157.20,151.15 L157.80,151.52 L158.40,151.72 L159.00,151.89 L159.60,151.51 L160.20,150.78 L160.80,151.25 L161.40,152.38 L162.00,152.95 L162.60,152.80 L163.20,152.30 L163.80,152.29 L164.40,153.26 L165.00,153.72 L165.60,153.13 L166.20,152.49 L166.80,152.48 L167.40,153.66 L168.00,154.58 L168.60,154.36 L169.20,154.13 L169.80,153.74 L170.40,153.55 L171.00,153.75 L171.60,153.48 L172.20,153.57 L172.80,154.18 L173.40,154.52 L174.00,154.54 L174.60,154.29 L175.20,153.81 L175.80,153.73 L176.40,154.10 L177.00,154.03 L177.60,153.74 L178.20,153.88 L178.80,154.01 L179.40,153.81 L180.00,153.78 L180.60,154.22 L181.20,155.02 L181.80,155.89 L182.40,155.97 L183.00,155.14 L183.60,155.18 L184.20,155.85 L184.80,155.80 L185.40,156.03 L186.00,156.52 L186.60,156.05 L187.20,155.39 L187.80,155.60 L188.40,156.34 L189.00,156.43 L189.60,155.95 L190.20,156.18 L190.80,156.99 L191.40,157.19 L192.00,157.08 L192.60,157.44 L193.20,157.32 L193.80,156.78 L194.40,157.16 L195.00,157.65 L195.60,157.24 L196.20,156.95 L196.80,157.64 L197.40,158.57 L198.00,158.48 L198.60,158.26 L199.20,158.68 L199.80,158.67 L200.40,158.85 L201.00,159.27 L201.60,159.19 L202.20,158.83 L202.80,158.69 L203.40,158.89 L204.00,158.65 L204.60,158.78 L205.20,159.65 L205.80,159.96 L206.40,159.73 L207.00,159.59 L207.60,159.87 L208.20,160.17 L208.80,160.08 L209.40,159.75 L210.00,159.56 L210.60,159.54 L211.20,159.42 L211.80,159.56 L212.40,159.86 L213.00,159.96 L213.60,160.07 L214.20,160.32 L214.80,160.59 L215.40,160.60 L216.00,160.52 L216.60,160.53 L217.20,160.46 L217.80,160.51 L218.40,160.59 L219.00,160.55 L219.60,160.54 L220.20,160.60 L220.80,160.78 L221.40,160.89 L222.00,160.85 L222.60,160.85 L223.20,160.85 L223.80,160.85 L224.40,160.96 L225.00,161.14 L225.60,161.23 L226.20,161.19 L226.80,161.19 L227.40,161.25 L228.00,161.31 L228.60,161.37 L229.20,161.42 L229.80,161.48" fill="none" stroke="#e41414" stroke-width="1.2" stroke-linejoin="round"/>
<path d="M87.00,161.50 L87.60,161.50 L88.20,161.50 L88.80,161.50 L89.40,161.50 L90.00,161.50 L90.60,161.50 L91.20,161.50 L91.80,161.50 L92.40,161.50 L93.00,161.50 L93.60,161.50 L94.20,161.50 L94.80,161.50 L95.40,161.50 L96.00,161.50 L96.60,161.50 L97.20,161.50 L97.80,161.50 L98.40,161.50 L99.00,161.50 L99.60,161.50 L100.20,161.50 L100.80,161.50 L101.40,161.50 L102.00,161.50 L102.60,161.50 L103.20,161.50 L103.80,161.50 L104.40,161.50 L105.00,161.50 L105.60,161.50 L106.20,161.50 L106.80,161.50 L107.40,161.50 L108.00,161.50 L108.60,161.43 L109.20,161.00 L109.80,160.37 L110.40,159.79 L111.00,158.83 L111.60,157.52 L112.20,154.92 L112.80,151.39 L113.40,148.09 L114.00,144.82 L114.60,141.34 L115.20,137.85 L115.80,133.63 L116.40,128.74 L117.00,124.07 L117.60,119.49 L118.20,114.72 L118.80,110.40 L119.40,106.18 L120.00,101.33 L120.60,96.64 L121.20,92.41 L121.80,88.08 L122.40,83.49 L123.00,78.43 L123.60,73.15 L124.20,68.24 L124.80,63.92 L125.40,59.39 L126.00,54.99 L126.60,51.71 L127.20,49.68 L127.80,47.75 L128.40,45.80 L129.00,44.00 L129.60,42.13 L130.20,40.34 L130.80,39.95 L131.40,39.11 L132.00,27.66 L132.60,30.72 L133.20,35.60 L133.80,41.90 L134.40,49.46 L135.00,56.53 L135.60,63.40 L136.20,70.06 L136.80,76.00 L137.40,82.14 L138.00,89.48 L138.60,97.66 L139.20,106.10 L139.80,114.00 L140.40,122.32 L141.00,130.76 L141.60,137.70 L142.20,143.01 L142.80,147.19 L143.40,151.16 L144.00,154.29 L144.60,155.83 L145.20,156.93 L145.80,158.92 L146.40,159.88 L147.00,160.16 L147.60,160.79 L148.20,161.18 L148.80,161.23 L149.40,161.23 L150.00,161.20 L150.60,161.23 L151.20,161.27 L151.80,161.24 L152.40,161.23 L153.00,161.24 L153.60,161.26 L154.20,161.28 L154.80,161.27 L155.40,161.26 L156.00,161.26 L156.60,161.28 L157.20,161.26 L157.80,161.23 L158.40,161.25 L159.00,161.27 L159.60,161.30 L160.20,161.32 L160.80,161.30 L161.40,161.30 L162.00,161.34 L162.60,161.36 L163.20,161.36 L163.80,161.35 L164.40,161.33 L165.00,161.35 L165.60,161.37 L166.20,161.38 L166.80,161.36 L167.40,161.36 L168.00,161.36 L168.60,161.37 L169.20,161.39 L169.80,161.38 L170.40,161.36 L171.00,161.37 L171.60,161.39 L172.20,161.40 L172.80,161.39 L173.40,161.39 L174.00,161.39 L174.60,161.38 L175.20,161.39 L175.80,161.41 L176.40,161.41 L177.00,161.42 L177.60,161.43 L178.20,161.43 L178.80,161.43 L179.40,161.44 L180.00,161.44 L180.60,161.43 L181.20,161.44 L181.80,161.44 L182.40,161.43 L183.00,161.44 L183.60,161.43 L184.20,161.43 L184.80,161.44 L185.40,161.44 L186.00,161.44 L186.60,161.44 L187.20,161.45 L187.80,161.45 L188.40,161.45 L189.00,161.45 L189.60,161.46 L190.20,161.46 L190.80,161.46 L191.40,161.47 L192.00,161.46 L192.60,161.47 L193.20,161.47 L193.80,161.47 L194.40,161.47 L195.00,161.47 L195.60,161.47 L196.20,161.47 L196.80,161.47 L197.40,161.47 L198.00,161.47 L198.60,161.48 L199.20,161.48 L199.80,161.48 L200.40,161.48 L201.00,161.48 L201.60,161.48 L202.20,161.48 L202.80,161.49 L203.40,161.49 L204.00,161.49 L204.60,161.49 L205.20,161.49 L205.80,161.49 L206.40,161.49 L207.00,161.49 L207.60,161.49 L208.20,161.49 L208.80,161.49 L209.40,161.49 L210.00,161.49 L210.60,161.49 L211.20,161.49 L211.80,161.50 L212.40,161.50 L213.00,161.50 L213.60,161.50 L214.20,161.50 L214.80,161.50 L215.40,161.50 L216.00,161.50 L216.60,161.50 L217.20,161.50 L217.80,161.50 L218.40,161.50 L219.00,161.50 L219.60,161.50 L220.20,161.50 L220.80,161.50 L221.40,161.50 L222.00,161.50 L222.60,161.50 L223.20,161.50 L223.80,161.50 L224.40,161.50 L225.00,161.50 L225.60,161.50 L226.20,161.50 L226.80,161.50 L227.40,161.50 L228.00,161.50 L228.60,161.50 L229.20,161.50 L229.80,161.50" fill="none" stroke="#1a1a1a" stroke-width="1.2" stroke-linejoin="round"/>
<line x1="87" y1="161.5" x2="230" y2="161.5" stroke="#333" stroke-width="1"/>
<text x="150.2" y="198.1" font-size="10.4" font-weight="bold" text-anchor="middle" fill="#000" stroke="#000" stroke-width="0.4" textLength="51.5" lengthAdjust="spacingAndGlyphs">HLA-DR PE</text>
<text transform="translate(38.3,90.3) rotate(-90)" font-size="10.2" font-weight="bold" text-anchor="middle" stroke="#000" stroke-width="0.4">Unit distribution</text>
<line x1="51" y1="391.7" x2="51" y2="216" stroke="#000" stroke-width="2.8"/>
<polygon points="47.5,217.2 51,211 54.5,217.2 51,216.2" fill="#000"/>
<line x1="49.6" y1="391.7" x2="247.5" y2="391.7" stroke="#000" stroke-width="2.8"/>
<polygon points="246.3,388.2 252.5,391.7 246.3,395.2 247.3,391.7" fill="#000"/>
<rect x="89" y="229.6" width="143.3" height="142.9" fill="none" stroke="#7a7a7a" stroke-width="1"/>
<line x1="85.5" y1="229.60" x2="89" y2="229.60" stroke="#555" stroke-width="1"/>
<text x="83.2" y="233.9" font-size="6.8" font-weight="normal" text-anchor="end" fill="#3a3a3a"  >0.0523</text>
<line x1="85.5" y1="258.18" x2="89" y2="258.18" stroke="#555" stroke-width="1"/>
<text x="83.2" y="262.48" font-size="6.8" font-weight="normal" text-anchor="end" fill="#3a3a3a"  >0.0419</text>
<line x1="85.5" y1="286.76" x2="89" y2="286.76" stroke="#555" stroke-width="1"/>
<text x="83.2" y="291.06" font-size="6.8" font-weight="normal" text-anchor="end" fill="#3a3a3a"  >0.0314</text>
<line x1="85.5" y1="315.34" x2="89" y2="315.34" stroke="#555" stroke-width="1"/>
<text x="83.2" y="319.64" font-size="6.8" font-weight="normal" text-anchor="end" fill="#3a3a3a"  >0.0209</text>
<line x1="85.5" y1="343.92" x2="89" y2="343.92" stroke="#555" stroke-width="1"/>
<text x="83.2" y="348.22" font-size="6.8" font-weight="normal" text-anchor="end" fill="#3a3a3a"  >0.0105</text>
<line x1="142.0" y1="372.5" x2="142.0" y2="375.5" stroke="#444" stroke-width="0.8"/>
<line x1="149.9" y1="372.5" x2="149.9" y2="374.3" stroke="#444" stroke-width="0.8"/>
<line x1="154.5" y1="372.5" x2="154.5" y2="374.3" stroke="#444" stroke-width="0.8"/>
<line x1="157.8" y1="372.5" x2="157.8" y2="374.3" stroke="#444" stroke-width="0.8"/>
<line x1="160.3" y1="372.5" x2="160.3" y2="374.3" stroke="#444" stroke-width="0.8"/>
<line x1="162.4" y1="372.5" x2="162.4" y2="374.3" stroke="#444" stroke-width="0.8"/>
<line x1="164.2" y1="372.5" x2="164.2" y2="374.3" stroke="#444" stroke-width="0.8"/>
<line x1="165.7" y1="372.5" x2="165.7" y2="374.3" stroke="#444" stroke-width="0.8"/>
<line x1="167.0" y1="372.5" x2="167.0" y2="374.3" stroke="#444" stroke-width="0.8"/>
<line x1="168.2" y1="372.5" x2="168.2" y2="375.5" stroke="#444" stroke-width="0.8"/>
<line x1="176.2" y1="372.5" x2="176.2" y2="374.3" stroke="#444" stroke-width="0.8"/>
<line x1="180.8" y1="372.5" x2="180.8" y2="374.3" stroke="#444" stroke-width="0.8"/>
<line x1="184.1" y1="372.5" x2="184.1" y2="374.3" stroke="#444" stroke-width="0.8"/>
<line x1="186.6" y1="372.5" x2="186.6" y2="374.3" stroke="#444" stroke-width="0.8"/>
<line x1="188.7" y1="372.5" x2="188.7" y2="374.3" stroke="#444" stroke-width="0.8"/>
<line x1="190.4" y1="372.5" x2="190.4" y2="374.3" stroke="#444" stroke-width="0.8"/>
<line x1="192.0" y1="372.5" x2="192.0" y2="374.3" stroke="#444" stroke-width="0.8"/>
<line x1="193.3" y1="372.5" x2="193.3" y2="374.3" stroke="#444" stroke-width="0.8"/>
<line x1="194.5" y1="372.5" x2="194.5" y2="375.5" stroke="#444" stroke-width="0.8"/>
<line x1="202.4" y1="372.5" x2="202.4" y2="374.3" stroke="#444" stroke-width="0.8"/>
<line x1="207.0" y1="372.5" x2="207.0" y2="374.3" stroke="#444" stroke-width="0.8"/>
<line x1="210.3" y1="372.5" x2="210.3" y2="374.3" stroke="#444" stroke-width="0.8"/>
<line x1="212.8" y1="372.5" x2="212.8" y2="374.3" stroke="#444" stroke-width="0.8"/>
<line x1="214.9" y1="372.5" x2="214.9" y2="374.3" stroke="#444" stroke-width="0.8"/>
<line x1="216.7" y1="372.5" x2="216.7" y2="374.3" stroke="#444" stroke-width="0.8"/>
<line x1="218.2" y1="372.5" x2="218.2" y2="374.3" stroke="#444" stroke-width="0.8"/>
<line x1="219.5" y1="372.5" x2="219.5" y2="374.3" stroke="#444" stroke-width="0.8"/>
<line x1="220.8" y1="372.5" x2="220.8" y2="375.5" stroke="#444" stroke-width="0.8"/>
<line x1="228.7" y1="372.5" x2="228.7" y2="374.3" stroke="#444" stroke-width="0.8"/>
<line x1="128.0" y1="372.5" x2="128.0" y2="375.5" stroke="#444" stroke-width="0.8"/>
<line x1="129.4" y1="372.5" x2="129.4" y2="374.1" stroke="#444" stroke-width="0.8"/>
<line x1="130.8" y1="372.5" x2="130.8" y2="374.1" stroke="#444" stroke-width="0.8"/>
<line x1="132.2" y1="372.5" x2="132.2" y2="374.1" stroke="#444" stroke-width="0.8"/>
<line x1="133.6" y1="372.5" x2="133.6" y2="374.1" stroke="#444" stroke-width="0.8"/>
<line x1="135.0" y1="372.5" x2="135.0" y2="374.1" stroke="#444" stroke-width="0.8"/>
<line x1="136.4" y1="372.5" x2="136.4" y2="374.1" stroke="#444" stroke-width="0.8"/>
<line x1="137.8" y1="372.5" x2="137.8" y2="374.1" stroke="#444" stroke-width="0.8"/>
<line x1="139.2" y1="372.5" x2="139.2" y2="374.1" stroke="#444" stroke-width="0.8"/>
<line x1="140.6" y1="372.5" x2="140.6" y2="374.1" stroke="#444" stroke-width="0.8"/>
<line x1="114.0" y1="372.5" x2="114.0" y2="375.0" stroke="#444" stroke-width="0.8"/>
<line x1="107.7" y1="372.5" x2="107.7" y2="374.1" stroke="#444" stroke-width="0.8"/>
<line x1="104.0" y1="372.5" x2="104.0" y2="374.1" stroke="#444" stroke-width="0.8"/>
<line x1="101.4" y1="372.5" x2="101.4" y2="374.1" stroke="#444" stroke-width="0.8"/>
<line x1="99.3" y1="372.5" x2="99.3" y2="374.1" stroke="#444" stroke-width="0.8"/>
<line x1="97.7" y1="372.5" x2="97.7" y2="374.1" stroke="#444" stroke-width="0.8"/>
<line x1="96.3" y1="372.5" x2="96.3" y2="374.1" stroke="#444" stroke-width="0.8"/>
<line x1="95.0" y1="372.5" x2="95.0" y2="374.1" stroke="#444" stroke-width="0.8"/>
<line x1="94.0" y1="372.5" x2="94.0" y2="374.1" stroke="#444" stroke-width="0.8"/>
<line x1="126.6" y1="372.5" x2="126.6" y2="374.1" stroke="#444" stroke-width="0.8"/>
<line x1="125.2" y1="372.5" x2="125.2" y2="374.1" stroke="#444" stroke-width="0.8"/>
<line x1="123.8" y1="372.5" x2="123.8" y2="374.1" stroke="#444" stroke-width="0.8"/>
<line x1="122.4" y1="372.5" x2="122.4" y2="374.1" stroke="#444" stroke-width="0.8"/>
<line x1="121.0" y1="372.5" x2="121.0" y2="374.1" stroke="#444" stroke-width="0.8"/>
<line x1="119.6" y1="372.5" x2="119.6" y2="374.1" stroke="#444" stroke-width="0.8"/>
<line x1="118.2" y1="372.5" x2="118.2" y2="374.1" stroke="#444" stroke-width="0.8"/>
<line x1="116.8" y1="372.5" x2="116.8" y2="374.1" stroke="#444" stroke-width="0.8"/>
<line x1="115.4" y1="372.5" x2="115.4" y2="374.1" stroke="#444" stroke-width="0.8"/>
<text x="128" y="384.4" font-size="7.0" font-weight="normal" text-anchor="middle" fill="#3a3a3a"  >0</text>
<text x="168.3" y="384.4" font-size="7.0" font-weight="normal" text-anchor="middle" fill="#3a3a3a"  >1000</text>
<text x="194.6" y="384.4" font-size="7.0" font-weight="normal" text-anchor="middle" fill="#3a3a3a"  >10000</text>
<text x="220.8" y="384.4" font-size="7.0" font-weight="normal" text-anchor="middle" fill="#3a3a3a"  >100000</text>
<path d="M89.00,372.50 L89.60,372.50 L90.20,372.50 L90.80,372.50 L91.40,372.50 L92.00,372.50 L92.60,372.50 L93.20,372.50 L93.80,372.50 L94.40,372.50 L95.00,372.50 L95.60,372.50 L96.20,372.50 L96.80,372.50 L97.40,372.50 L98.00,372.50 L98.60,372.50 L99.20,372.50 L99.80,372.50 L100.40,372.50 L101.00,372.50 L101.60,372.50 L102.20,372.50 L102.80,372.50 L103.40,372.50 L104.00,372.50 L104.60,372.50 L105.20,372.50 L105.80,372.50 L106.40,372.50 L107.00,372.50 L107.60,372.50 L108.20,372.50 L108.80,372.50 L109.40,372.50 L110.00,372.50 L110.60,372.50 L111.20,372.50 L111.80,372.50 L112.40,372.50 L113.00,372.50 L113.60,372.50 L114.20,372.50 L114.80,372.50 L115.40,372.50 L116.00,372.50 L116.60,372.50 L117.20,372.50 L117.80,372.50 L118.40,372.50 L119.00,372.50 L119.60,372.50 L120.20,372.50 L120.80,372.50 L121.40,372.50 L122.00,372.50 L122.60,372.36 L123.20,372.04 L123.80,371.64 L124.40,371.03 L125.00,370.29 L125.60,369.69 L126.20,369.01 L126.80,367.77 L127.40,366.05 L128.00,365.02 L128.60,364.02 L129.20,361.52 L129.80,358.96 L130.40,356.80 L131.00,354.77 L131.60,353.25 L132.20,350.88 L132.80,347.15 L133.40,344.12 L134.00,342.35 L134.60,340.03 L135.20,337.03 L135.80,333.77 L136.40,330.37 L137.00,327.48 L137.60,324.82 L138.20,322.83 L138.80,321.40 L139.40,319.96 L140.00,318.79 L140.60,316.94 L141.20,315.15 L141.80,314.60 L142.40,314.08 L143.00,312.81 L143.60,311.80 L144.20,311.95 L144.80,312.02 L145.40,311.23 L146.00,311.00 L146.60,311.54 L147.20,311.57 L147.80,311.46 L148.40,311.94 L149.00,312.68 L149.60,313.59 L150.20,314.69 L150.80,315.82 L151.40,316.30 L152.00,316.60 L152.60,317.92 L153.20,319.34 L153.80,320.35 L154.40,321.23 L155.00,321.80 L155.60,323.05 L156.20,324.86 L156.80,325.89 L157.40,327.41 L158.00,329.83 L158.60,331.57 L159.20,332.91 L159.80,334.36 L160.40,336.02 L161.00,338.10 L161.60,340.45 L162.20,342.25 L162.80,343.89 L163.40,346.21 L164.00,348.11 L164.60,350.13 L165.20,352.64 L165.80,354.22 L166.40,355.86 L167.00,358.04 L167.60,359.46 L168.20,360.89 L168.80,362.80 L169.40,364.26 L170.00,365.30 L170.60,366.33 L171.20,367.42 L171.80,368.47 L172.40,369.11 L173.00,370.05 L173.60,371.05 L174.20,371.54 L174.80,372.01 L175.40,372.27 L176.00,372.24 L176.60,372.21 L177.20,372.22 L177.80,372.23 L178.40,372.27 L179.00,372.29 L179.60,372.25 L180.20,372.25 L180.80,372.27 L181.40,372.27 L182.00,372.27 L182.60,372.28 L183.20,372.26 L183.80,372.28 L184.40,372.30 L185.00,372.32 L185.60,372.32 L186.20,372.32 L186.80,372.34 L187.40,372.34 L188.00,372.33 L188.60,372.33 L189.20,372.34 L189.80,372.36 L190.40,372.36 L191.00,372.38 L191.60,372.40 L192.20,372.41 L192.80,372.41 L193.40,372.40 L194.00,372.39 L194.60,372.41 L195.20,372.42 L195.80,372.43 L196.40,372.43 L197.00,372.43 L197.60,372.44 L198.20,372.44 L198.80,372.44 L199.40,372.44 L200.00,372.44 L200.60,372.45 L201.20,372.45 L201.80,372.45 L202.40,372.46 L203.00,372.46 L203.60,372.46 L204.20,372.46 L204.80,372.46 L205.40,372.47 L206.00,372.47 L206.60,372.46 L207.20,372.47 L207.80,372.47 L208.40,372.48 L209.00,372.48 L209.60,372.48 L210.20,372.48 L210.80,372.48 L211.40,372.48 L212.00,372.49 L212.60,372.49 L213.20,372.49 L213.80,372.49 L214.40,372.49 L215.00,372.49 L215.60,372.49 L216.20,372.49 L216.80,372.49 L217.40,372.49 L218.00,372.49 L218.60,372.49 L219.20,372.50 L219.80,372.50 L220.40,372.50 L221.00,372.50 L221.60,372.50 L222.20,372.50 L222.80,372.50 L223.40,372.50 L224.00,372.50 L224.60,372.50 L225.20,372.50 L225.80,372.50 L226.40,372.50 L227.00,372.50 L227.60,372.50 L228.20,372.50 L228.80,372.50 L229.40,372.50 L230.00,372.50 L230.60,372.50 L231.20,372.50 L231.80,372.50" fill="none" stroke="#8ec8ee" stroke-width="1.2" stroke-linejoin="round"/>
<path d="M89.00,372.50 L89.60,372.50 L90.20,372.50 L90.80,372.50 L91.40,372.50 L92.00,372.50 L92.60,372.50 L93.20,372.50 L93.80,372.50 L94.40,372.50 L95.00,372.50 L95.60,372.50 L96.20,372.50 L96.80,372.50 L97.40,372.50 L98.00,372.50 L98.60,372.50 L99.20,372.50 L99.80,372.50 L100.40,372.50 L101.00,372.50 L101.60,372.50 L102.20,372.50 L102.80,372.50 L103.40,372.50 L104.00,372.50 L104.60,372.50 L105.20,372.50 L105.80,372.50 L106.40,372.50 L107.00,372.50 L107.60,372.50 L108.20,372.50 L108.80,372.50 L109.40,372.50 L110.00,372.50 L110.60,372.50 L111.20,372.50 L111.80,372.50 L112.40,372.50 L113.00,372.50 L113.60,372.50 L114.20,372.50 L114.80,372.50 L115.40,372.50 L116.00,372.50 L116.60,372.50 L117.20,372.50 L117.80,372.50 L118.40,372.50 L119.00,372.50 L119.60,372.50 L120.20,372.50 L120.80,372.50 L121.40,372.50 L122.00,372.50 L122.60,372.50 L123.20,372.48 L123.80,372.26 L124.40,371.84 L125.00,371.43 L125.60,370.83 L126.20,370.28 L126.80,369.88 L127.40,369.08 L128.00,367.77 L128.60,366.44 L129.20,365.55 L129.80,365.04 L130.40,363.60 L131.00,361.63 L131.60,360.51 L132.20,359.56 L132.80,358.46 L133.40,357.45 L134.00,355.81 L134.60,353.76 L135.20,352.09 L135.80,350.80 L136.40,349.94 L137.00,349.48 L137.60,348.65 L138.20,346.30 L138.80,343.67 L139.40,342.26 L140.00,340.75 L140.60,338.56 L141.20,336.67 L141.80,335.31 L142.40,333.91 L143.00,331.98 L143.60,330.23 L144.20,328.88 L144.80,327.24 L145.40,325.59 L146.00,324.36 L146.60,323.78 L147.20,323.17 L147.80,322.11 L148.40,321.80 L149.00,321.70 L149.60,321.08 L150.20,320.44 L150.80,320.28 L151.40,320.94 L152.00,321.24 L152.60,320.57 L153.20,319.87 L153.80,320.29 L154.40,321.52 L155.00,322.11 L155.60,322.11 L156.20,322.27 L156.80,322.67 L157.40,323.63 L158.00,325.05 L158.60,326.06 L159.20,327.18 L159.80,329.28 L160.40,330.93 L161.00,331.53 L161.60,332.94 L162.20,335.14 L162.80,336.57 L163.40,338.21 L164.00,340.92 L164.60,343.07 L165.20,345.06 L165.80,347.38 L166.40,348.74 L167.00,349.96 L167.60,351.68 L168.20,353.20 L168.80,355.01 L169.40,356.99 L170.00,358.51 L170.60,360.41 L171.20,362.68 L171.80,364.25 L172.40,365.38 L173.00,366.55 L173.60,367.96 L174.20,369.23 L174.80,370.08 L175.40,370.69 L176.00,370.97 L176.60,371.39 L177.20,371.86 L177.80,372.16 L178.40,372.24 L179.00,372.25 L179.60,372.23 L180.20,372.22 L180.80,372.22 L181.40,372.21 L182.00,372.22 L182.60,372.23 L183.20,372.24 L183.80,372.27 L184.40,372.28 L185.00,372.27 L185.60,372.26 L186.20,372.29 L186.80,372.33 L187.40,372.33 L188.00,372.35 L188.60,372.36 L189.20,372.33 L189.80,372.34 L190.40,372.38 L191.00,372.39 L191.60,372.36 L192.20,372.37 L192.80,372.39 L193.40,372.40 L194.00,372.41 L194.60,372.40 L195.20,372.39 L195.80,372.40 L196.40,372.42 L197.00,372.40 L197.60,372.39 L198.20,372.41 L198.80,372.43 L199.40,372.44 L200.00,372.43 L200.60,372.43 L201.20,372.45 L201.80,372.45 L202.40,372.45 L203.00,372.45 L203.60,372.45 L204.20,372.45 L204.80,372.45 L205.40,372.46 L206.00,372.46 L206.60,372.46 L207.20,372.46 L207.80,372.47 L208.40,372.47 L209.00,372.47 L209.60,372.47 L210.20,372.47 L210.80,372.48 L211.40,372.48 L212.00,372.48 L212.60,372.48 L213.20,372.48 L213.80,372.48 L214.40,372.48 L215.00,372.49 L215.60,372.49 L216.20,372.49 L216.80,372.49 L217.40,372.49 L218.00,372.49 L218.60,372.49 L219.20,372.49 L219.80,372.50 L220.40,372.50 L221.00,372.50 L221.60,372.50 L222.20,372.50 L222.80,372.50 L223.40,372.50 L224.00,372.50 L224.60,372.50 L225.20,372.50 L225.80,372.50 L226.40,372.50 L227.00,372.50 L227.60,372.50 L228.20,372.50 L228.80,372.50 L229.40,372.50 L230.00,372.50 L230.60,372.50 L231.20,372.50 L231.80,372.50" fill="none" stroke="#aa24a8" stroke-width="1.2" stroke-linejoin="round"/>
<path d="M89.00,372.50 L89.60,372.50 L90.20,372.50 L90.80,372.50 L91.40,372.50 L92.00,372.50 L92.60,372.50 L93.20,372.50 L93.80,372.50 L94.40,372.50 L95.00,372.50 L95.60,372.50 L96.20,372.50 L96.80,372.50 L97.40,372.50 L98.00,372.50 L98.60,372.50 L99.20,372.50 L99.80,372.50 L100.40,372.50 L101.00,372.50 L101.60,372.50 L102.20,372.50 L102.80,372.50 L103.40,372.50 L104.00,372.50 L104.60,372.50 L105.20,372.50 L105.80,372.50 L106.40,372.50 L107.00,372.50 L107.60,372.50 L108.20,372.50 L108.80,372.50 L109.40,372.50 L110.00,372.50 L110.60,372.50 L111.20,372.50 L111.80,372.50 L112.40,372.50 L113.00,372.50 L113.60,372.50 L114.20,372.50 L114.80,372.50 L115.40,372.50 L116.00,372.50 L116.60,372.50 L117.20,372.50 L117.80,372.50 L118.40,372.50 L119.00,372.50 L119.60,372.50 L120.20,372.49 L120.80,372.30 L121.40,371.92 L122.00,371.41 L122.60,370.66 L123.20,370.13 L123.80,369.59 L124.40,369.23 L125.00,368.77 L125.60,367.51 L126.20,366.90 L126.80,366.36 L127.40,365.29 L128.00,364.61 L128.60,363.88 L129.20,362.70 L129.80,361.60 L130.40,360.08 L131.00,358.62 L131.60,358.47 L132.20,357.99 L132.80,356.36 L133.40,354.36 L134.00,352.43 L134.60,351.19 L135.20,350.21 L135.80,349.50 L136.40,348.90 L137.00,347.85 L137.60,346.82 L138.20,346.07 L138.80,346.05 L139.40,346.16 L140.00,346.02 L140.60,346.69 L141.20,347.49 L141.80,347.11 L142.40,346.79 L143.00,347.49 L143.60,348.69 L144.20,349.23 L144.80,348.61 L145.40,347.97 L146.00,348.20 L146.60,348.38 L147.20,348.16 L147.80,348.40 L148.40,348.24 L149.00,347.44 L149.60,347.01 L150.20,346.83 L150.80,346.05 L151.40,344.92 L152.00,344.19 L152.60,342.92 L153.20,341.33 L153.80,340.04 L154.40,338.34 L155.00,336.24 L155.60,334.28 L156.20,333.05 L156.80,332.33 L157.40,330.90 L158.00,328.89 L158.60,326.86 L159.20,324.70 L159.80,323.06 L160.40,321.74 L161.00,320.43 L161.60,319.83 L162.20,319.70 L162.80,319.25 L163.40,318.99 L164.00,319.37 L164.60,319.96 L165.20,320.59 L165.80,320.94 L166.40,321.43 L167.00,322.69 L167.60,324.11 L168.20,325.69 L168.80,327.87 L169.40,330.81 L170.00,333.91 L170.60,336.44 L171.20,338.41 L171.80,341.15 L172.40,344.39 L173.00,347.36 L173.60,349.99 L174.20,352.72 L174.80,355.70 L175.40,358.00 L176.00,360.26 L176.60,363.15 L177.20,365.20 L177.80,366.83 L178.40,368.72 L179.00,370.34 L179.60,371.40 L180.20,371.73 L180.80,371.98 L181.40,372.19 L182.00,372.28 L182.60,372.30 L183.20,372.32 L183.80,372.32 L184.40,372.28 L185.00,372.27 L185.60,372.29 L186.20,372.32 L186.80,372.35 L187.40,372.38 L188.00,372.37 L188.60,372.36 L189.20,372.37 L189.80,372.37 L190.40,372.37 L191.00,372.37 L191.60,372.38 L192.20,372.40 L192.80,372.41 L193.40,372.41 L194.00,372.41 L194.60,372.41 L195.20,372.42 L195.80,372.43 L196.40,372.43 L197.00,372.43 L197.60,372.42 L198.20,372.43 L198.80,372.44 L199.40,372.44 L200.00,372.44 L200.60,372.46 L201.20,372.46 L201.80,372.46 L202.40,372.46 L203.00,372.47 L203.60,372.47 L204.20,372.46 L204.80,372.46 L205.40,372.46 L206.00,372.46 L206.60,372.47 L207.20,372.47 L207.80,372.47 L208.40,372.47 L209.00,372.47 L209.60,372.47 L210.20,372.48 L210.80,372.48 L211.40,372.49 L212.00,372.49 L212.60,372.49 L213.20,372.49 L213.80,372.48 L214.40,372.48 L215.00,372.49 L215.60,372.49 L216.20,372.49 L216.80,372.49 L217.40,372.49 L218.00,372.49 L218.60,372.50 L219.20,372.50 L219.80,372.50 L220.40,372.50 L221.00,372.50 L221.60,372.50 L222.20,372.50 L222.80,372.50 L223.40,372.50 L224.00,372.50 L224.60,372.50 L225.20,372.50 L225.80,372.50 L226.40,372.50 L227.00,372.50 L227.60,372.50 L228.20,372.50 L228.80,372.50 L229.40,372.50 L230.00,372.50 L230.60,372.50 L231.20,372.50 L231.80,372.50" fill="none" stroke="#8e5a1c" stroke-width="1.2" stroke-linejoin="round"/>
<path d="M89.00,372.50 L89.60,372.50 L90.20,372.50 L90.80,372.50 L91.40,372.50 L92.00,372.50 L92.60,372.50 L93.20,372.50 L93.80,372.50 L94.40,372.50 L95.00,372.50 L95.60,372.50 L96.20,372.50 L96.80,372.50 L97.40,372.50 L98.00,372.50 L98.60,372.50 L99.20,372.50 L99.80,372.50 L100.40,372.50 L101.00,372.50 L101.60,372.50 L102.20,372.50 L102.80,372.50 L103.40,372.50 L104.00,372.50 L104.60,372.50 L105.20,372.50 L105.80,372.50 L106.40,372.50 L107.00,372.50 L107.60,372.50 L108.20,372.50 L108.80,372.50 L109.40,372.50 L110.00,372.50 L110.60,372.50 L111.20,372.50 L111.80,372.50 L112.40,372.50 L113.00,372.50 L113.60,372.50 L114.20,372.50 L114.80,372.50 L115.40,372.50 L116.00,372.50 L116.60,372.50 L117.20,372.50 L117.80,372.50 L118.40,372.50 L119.00,372.50 L119.60,372.50 L120.20,372.47 L120.80,372.09 L121.40,371.41 L122.00,370.49 L122.60,368.87 L123.20,366.79 L123.80,365.04 L124.40,363.19 L125.00,361.62 L125.60,359.25 L126.20,356.18 L126.80,353.74 L127.40,351.01 L128.00,347.98 L128.60,345.32 L129.20,341.85 L129.80,337.80 L130.40,334.41 L131.00,330.90 L131.60,327.41 L132.20,324.42 L132.80,321.23 L133.40,318.49 L134.00,316.49 L134.60,315.35 L135.20,314.45 L135.80,313.32 L136.40,312.91 L137.00,313.12 L137.60,313.17 L138.20,313.25 L138.80,313.65 L139.40,314.97 L140.00,317.22 L140.60,320.15 L141.20,323.45 L141.80,326.77 L142.40,330.04 L143.00,333.30 L143.60,336.51 L144.20,338.89 L144.80,340.83 L145.40,342.85 L146.00,344.37 L146.60,345.40 L147.20,346.51 L147.80,347.87 L148.40,349.22 L149.00,350.14 L149.60,350.82 L150.20,351.34 L150.80,351.65 L151.40,351.68 L152.00,350.82 L152.60,350.13 L153.20,350.47 L153.80,349.97 L154.40,348.96 L155.00,348.51 L155.60,348.47 L156.20,348.50 L156.80,347.31 L157.40,345.97 L158.00,345.82 L158.60,346.12 L159.20,346.08 L159.80,344.99 L160.40,344.31 L161.00,344.97 L161.60,345.56 L162.20,345.59 L162.80,345.96 L163.40,347.51 L164.00,348.66 L164.60,349.12 L165.20,350.42 L165.80,352.09 L166.40,353.72 L167.00,354.74 L167.60,355.78 L168.20,357.51 L168.80,358.74 L169.40,359.80 L170.00,361.14 L170.60,361.95 L171.20,363.23 L171.80,365.24 L172.40,366.13 L173.00,366.75 L173.60,367.70 L174.20,368.34 L174.80,369.49 L175.40,370.75 L176.00,371.62 L176.60,372.12 L177.20,372.23 L177.80,372.22 L178.40,372.24 L179.00,372.24 L179.60,372.22 L180.20,372.23 L180.80,372.25 L181.40,372.28 L182.00,372.29 L182.60,372.27 L183.20,372.26 L183.80,372.27 L184.40,372.29 L185.00,372.31 L185.60,372.31 L186.20,372.31 L186.80,372.34 L187.40,372.35 L188.00,372.34 L188.60,372.36 L189.20,372.35 L189.80,372.35 L190.40,372.36 L191.00,372.35 L191.60,372.36 L192.20,372.38 L192.80,372.41 L193.40,372.41 L194.00,372.41 L194.60,372.41 L195.20,372.41 L195.80,372.41 L196.40,372.42 L197.00,372.43 L197.60,372.44 L198.20,372.43 L198.80,372.42 L199.40,372.43 L200.00,372.43 L200.60,372.42 L201.20,372.42 L201.80,372.44 L202.40,372.45 L203.00,372.46 L203.60,372.46 L204.20,372.46 L204.80,372.46 L205.40,372.46 L206.00,372.46 L206.60,372.46 L207.20,372.47 L207.80,372.47 L208.40,372.47 L209.00,372.47 L209.60,372.47 L210.20,372.47 L210.80,372.48 L211.40,372.48 L212.00,372.48 L212.60,372.48 L213.20,372.48 L213.80,372.48 L214.40,372.49 L215.00,372.49 L215.60,372.49 L216.20,372.49 L216.80,372.49 L217.40,372.49 L218.00,372.49 L218.60,372.49 L219.20,372.49 L219.80,372.49 L220.40,372.50 L221.00,372.50 L221.60,372.50 L222.20,372.50 L222.80,372.50 L223.40,372.50 L224.00,372.50 L224.60,372.50 L225.20,372.50 L225.80,372.50 L226.40,372.50 L227.00,372.50 L227.60,372.50 L228.20,372.50 L228.80,372.50 L229.40,372.50 L230.00,372.50 L230.60,372.50 L231.20,372.50 L231.80,372.50" fill="none" stroke="#2b6bd6" stroke-width="1.2" stroke-linejoin="round"/>
<path d="M89.00,372.50 L89.60,372.50 L90.20,372.50 L90.80,372.50 L91.40,372.50 L92.00,372.50 L92.60,372.50 L93.20,372.50 L93.80,372.50 L94.40,372.50 L95.00,372.50 L95.60,372.50 L96.20,372.50 L96.80,372.50 L97.40,372.50 L98.00,372.50 L98.60,372.50 L99.20,372.50 L99.80,372.50 L100.40,372.50 L101.00,372.50 L101.60,372.50 L102.20,372.50 L102.80,372.50 L103.40,372.50 L104.00,372.50 L104.60,372.50 L105.20,372.50 L105.80,372.50 L106.40,372.50 L107.00,372.50 L107.60,372.50 L108.20,372.50 L108.80,372.50 L109.40,372.50 L110.00,372.50 L110.60,372.50 L111.20,372.50 L111.80,372.50 L112.40,372.50 L113.00,372.50 L113.60,372.50 L114.20,372.50 L114.80,372.50 L115.40,372.50 L116.00,372.50 L116.60,372.50 L117.20,372.50 L117.80,372.50 L118.40,372.50 L119.00,372.50 L119.60,372.50 L120.20,372.50 L120.80,372.50 L121.40,372.38 L122.00,371.83 L122.60,370.86 L123.20,369.50 L123.80,367.60 L124.40,365.70 L125.00,363.05 L125.60,360.07 L126.20,356.08 L126.80,351.07 L127.40,345.54 L128.00,340.01 L128.60,334.37 L129.20,326.93 L129.80,318.25 L130.40,310.67 L131.00,304.33 L131.60,298.06 L132.20,292.49 L132.80,286.83 L133.40,279.51 L134.00,273.37 L134.60,269.81 L135.20,267.03 L135.80,266.77 L136.40,267.80 L137.00,269.65 L137.60,274.34 L138.20,281.67 L138.80,288.77 L139.40,296.06 L140.00,302.70 L140.60,307.39 L141.20,311.00 L141.80,314.15 L142.40,317.96 L143.00,323.12 L143.60,327.81 L144.20,332.18 L144.80,336.89 L145.40,340.48 L146.00,343.46 L146.60,346.31 L147.20,348.16 L147.80,349.92 L148.40,352.35 L149.00,353.86 L149.60,354.33 L150.20,354.80 L150.80,355.40 L151.40,356.60 L152.00,357.99 L152.60,358.51 L153.20,358.75 L153.80,359.82 L154.40,360.96 L155.00,361.12 L155.60,361.56 L156.20,362.61 L156.80,363.06 L157.40,363.07 L158.00,363.04 L158.60,363.11 L159.20,363.73 L159.80,364.66 L160.40,365.54 L161.00,366.39 L161.60,367.02 L162.20,367.42 L162.80,367.58 L163.40,367.31 L164.00,367.38 L164.60,368.23 L165.20,368.90 L165.80,369.43 L166.40,369.86 L167.00,370.10 L167.60,370.50 L168.20,371.05 L168.80,371.44 L169.40,371.74 L170.00,372.01 L170.60,372.15 L171.20,372.17 L171.80,372.22 L172.40,372.26 L173.00,372.25 L173.60,372.27 L174.20,372.31 L174.80,372.29 L175.40,372.28 L176.00,372.30 L176.60,372.29 L177.20,372.27 L177.80,372.28 L178.40,372.30 L179.00,372.30 L179.60,372.31 L180.20,372.33 L180.80,372.30 L181.40,372.30 L182.00,372.34 L182.60,372.36 L183.20,372.35 L183.80,372.34 L184.40,372.36 L185.00,372.38 L185.60,372.38 L186.20,372.36 L186.80,372.36 L187.40,372.36 L188.00,372.35 L188.60,372.37 L189.20,372.39 L189.80,372.39 L190.40,372.39 L191.00,372.41 L191.60,372.42 L192.20,372.42 L192.80,372.41 L193.40,372.41 L194.00,372.42 L194.60,372.42 L195.20,372.42 L195.80,372.44 L196.40,372.44 L197.00,372.42 L197.60,372.41 L198.20,372.42 L198.80,372.43 L199.40,372.44 L200.00,372.45 L200.60,372.45 L201.20,372.45 L201.80,372.45 L202.40,372.45 L203.00,372.46 L203.60,372.46 L204.20,372.47 L204.80,372.47 L205.40,372.47 L206.00,372.47 L206.60,372.47 L207.20,372.47 L207.80,372.47 L208.40,372.48 L209.00,372.48 L209.60,372.48 L210.20,372.48 L210.80,372.48 L211.40,372.48 L212.00,372.48 L212.60,372.49 L213.20,372.49 L213.80,372.49 L214.40,372.49 L215.00,372.49 L215.60,372.49 L216.20,372.49 L216.80,372.49 L217.40,372.49 L218.00,372.49 L218.60,372.50 L219.20,372.50 L219.80,372.50 L220.40,372.50 L221.00,372.50 L221.60,372.50 L222.20,372.50 L222.80,372.50 L223.40,372.50 L224.00,372.50 L224.60,372.50 L225.20,372.50 L225.80,372.50 L226.40,372.50 L227.00,372.50 L227.60,372.50 L228.20,372.50 L228.80,372.50 L229.40,372.50 L230.00,372.50 L230.60,372.50 L231.20,372.50 L231.80,372.50" fill="none" stroke="#22c02a" stroke-width="1.2" stroke-linejoin="round"/>
<path d="M89.00,372.50 L89.60,372.50 L90.20,372.50 L90.80,372.50 L91.40,372.50 L92.00,372.50 L92.60,372.50 L93.20,372.50 L93.80,372.50 L94.40,372.50 L95.00,372.50 L95.60,372.50 L96.20,372.50 L96.80,372.50 L97.40,372.50 L98.00,372.50 L98.60,372.50 L99.20,372.50 L99.80,372.50 L100.40,372.50 L101.00,372.50 L101.60,372.50 L102.20,372.50 L102.80,372.50 L103.40,372.50 L104.00,372.50 L104.60,372.50 L105.20,372.50 L105.80,372.50 L106.40,372.50 L107.00,372.50 L107.60,372.50 L108.20,372.50 L108.80,372.50 L109.40,372.50 L110.00,372.50 L110.60,372.50 L111.20,372.50 L111.80,372.50 L112.40,372.50 L113.00,372.50 L113.60,372.50 L114.20,372.50 L114.80,372.50 L115.40,372.50 L116.00,372.50 L116.60,372.50 L117.20,372.50 L117.80,372.50 L118.40,372.50 L119.00,372.50 L119.60,372.49 L120.20,372.05 L120.80,371.09 L121.40,369.91 L122.00,368.03 L122.60,364.38 L123.20,359.50 L123.80,354.13 L124.40,348.92 L125.00,343.18 L125.60,336.83 L126.20,329.89 L126.80,322.37 L127.40,314.19 L128.00,306.28 L128.60,298.87 L129.20,291.47 L129.80,284.36 L130.40,277.47 L131.00,271.05 L131.60,266.09 L132.20,262.93 L132.80,260.23 L133.40,258.16 L134.00,257.99 L134.60,259.36 L135.20,261.72 L135.80,265.22 L136.40,270.47 L137.00,276.66 L137.60,282.99 L138.20,290.09 L138.80,298.42 L139.40,308.29 L140.00,322.20 L140.60,336.92 L141.20,349.77 L141.80,357.42 L142.40,362.35 L143.00,365.90 L143.60,368.31 L144.20,370.08 L144.80,371.19 L145.40,371.52 L146.00,371.76 L146.60,372.00 L147.20,372.20 L147.80,372.32 L148.40,372.32 L149.00,372.30 L149.60,372.32 L150.20,372.34 L150.80,372.34 L151.40,372.33 L152.00,372.30 L152.60,372.31 L153.20,372.36 L153.80,372.34 L154.40,372.32 L155.00,372.34 L155.60,372.33 L156.20,372.30 L156.80,372.30 L157.40,372.32 L158.00,372.35 L158.60,372.36 L159.20,372.37 L159.80,372.38 L160.40,372.37 L161.00,372.35 L161.60,372.36 L162.20,372.36 L162.80,372.36 L163.40,372.37 L164.00,372.38 L164.60,372.38 L165.20,372.38 L165.80,372.40 L166.40,372.41 L167.00,372.40 L167.60,372.39 L168.20,372.41 L168.80,372.42 L169.40,372.42 L170.00,372.41 L170.60,372.42 L171.20,372.41 L171.80,372.41 L172.40,372.42 L173.00,372.43 L173.60,372.44 L174.20,372.44 L174.80,372.44 L175.40,372.44 L176.00,372.44 L176.60,372.44 L177.20,372.43 L177.80,372.43 L178.40,372.44 L179.00,372.44 L179.60,372.44 L180.20,372.45 L180.80,372.45 L181.40,372.45 L182.00,372.45 L182.60,372.45 L183.20,372.46 L183.80,372.47 L184.40,372.46 L185.00,372.46 L185.60,372.47 L186.20,372.47 L186.80,372.46 L187.40,372.46 L188.00,372.47 L188.60,372.47 L189.20,372.47 L189.80,372.47 L190.40,372.47 L191.00,372.47 L191.60,372.47 L192.20,372.47 L192.80,372.48 L193.40,372.48 L194.00,372.48 L194.60,372.48 L195.20,372.48 L195.80,372.48 L196.40,372.48 L197.00,372.48 L197.60,372.48 L198.20,372.49 L198.80,372.49 L199.40,372.49 L200.00,372.49 L200.60,372.49 L201.20,372.49 L201.80,372.49 L202.40,372.49 L203.00,372.49 L203.60,372.49 L204.20,372.49 L204.80,372.49 L205.40,372.49 L206.00,372.49 L206.60,372.49 L207.20,372.49 L207.80,372.49 L208.40,372.49 L209.00,372.50 L209.60,372.50 L210.20,372.50 L210.80,372.50 L211.40,372.50 L212.00,372.50 L212.60,372.50 L213.20,372.50 L213.80,372.50 L214.40,372.50 L215.00,372.50 L215.60,372.50 L216.20,372.50 L216.80,372.50 L217.40,372.50 L218.00,372.50 L218.60,372.50 L219.20,372.50 L219.80,372.50 L220.40,372.50 L221.00,372.50 L221.60,372.50 L222.20,372.50 L222.80,372.50 L223.40,372.50 L224.00,372.50 L224.60,372.50 L225.20,372.50 L225.80,372.50 L226.40,372.50 L227.00,372.50 L227.60,372.50 L228.20,372.50 L228.80,372.50 L229.40,372.50 L230.00,372.50 L230.60,372.50 L231.20,372.50 L231.80,372.50" fill="none" stroke="#e41414" stroke-width="1.2" stroke-linejoin="round"/>
<path d="M89.00,372.50 L89.60,372.50 L90.20,372.50 L90.80,372.50 L91.40,372.50 L92.00,372.50 L92.60,372.50 L93.20,372.50 L93.80,372.50 L94.40,372.50 L95.00,372.50 L95.60,372.50 L96.20,372.50 L96.80,372.50 L97.40,372.50 L98.00,372.50 L98.60,372.50 L99.20,372.50 L99.80,372.50 L100.40,372.50 L101.00,372.50 L101.60,372.50 L102.20,372.50 L102.80,372.50 L103.40,372.50 L104.00,372.50 L104.60,372.50 L105.20,372.50 L105.80,372.50 L106.40,372.50 L107.00,372.50 L107.60,372.50 L108.20,372.50 L108.80,372.50 L109.40,372.50 L110.00,372.50 L110.60,372.50 L111.20,372.50 L111.80,372.50 L112.40,372.50 L113.00,372.50 L113.60,372.50 L114.20,372.50 L114.80,372.50 L115.40,372.50 L116.00,372.50 L116.60,372.50 L117.20,372.50 L117.80,372.50 L118.40,372.50 L119.00,372.50 L119.60,372.25 L120.20,371.62 L120.80,370.87 L121.40,369.33 L122.00,365.83 L122.60,361.79 L123.20,357.21 L123.80,352.04 L124.40,345.75 L125.00,338.15 L125.60,330.25 L126.20,323.43 L126.80,317.07 L127.40,310.78 L128.00,303.85 L128.60,294.64 L129.20,281.96 L129.80,268.14 L130.40,253.13 L131.00,241.90 L131.60,238.79 L132.20,243.43 L132.80,240.17 L133.40,241.61 L134.00,247.78 L134.60,255.20 L135.20,264.58 L135.80,271.68 L136.40,276.29 L137.00,280.53 L137.60,284.99 L138.20,290.06 L138.80,297.60 L139.40,308.29 L140.00,320.00 L140.60,334.40 L141.20,347.66 L141.80,354.59 L142.40,359.77 L143.00,363.38 L143.60,366.19 L144.20,368.95 L144.80,370.37 L145.40,371.21 L146.00,371.95 L146.60,372.22 L147.20,372.23 L147.80,372.24 L148.40,372.25 L149.00,372.25 L149.60,372.24 L150.20,372.26 L150.80,372.29 L151.40,372.28 L152.00,372.28 L152.60,372.30 L153.20,372.30 L153.80,372.29 L154.40,372.30 L155.00,372.32 L155.60,372.31 L156.20,372.28 L156.80,372.27 L157.40,372.27 L158.00,372.28 L158.60,372.30 L159.20,372.30 L159.80,372.28 L160.40,372.31 L161.00,372.34 L161.60,372.33 L162.20,372.33 L162.80,372.34 L163.40,372.33 L164.00,372.31 L164.60,372.32 L165.20,372.35 L165.80,372.38 L166.40,372.38 L167.00,372.36 L167.60,372.35 L168.20,372.35 L168.80,372.36 L169.40,372.36 L170.00,372.36 L170.60,372.38 L171.20,372.39 L171.80,372.39 L172.40,372.39 L173.00,372.38 L173.60,372.38 L174.20,372.39 L174.80,372.42 L175.40,372.42 L176.00,372.42 L176.60,372.42 L177.20,372.42 L177.80,372.43 L178.40,372.43 L179.00,372.42 L179.60,372.43 L180.20,372.42 L180.80,372.42 L181.40,372.42 L182.00,372.43 L182.60,372.44 L183.20,372.44 L183.80,372.44 L184.40,372.45 L185.00,372.45 L185.60,372.45 L186.20,372.46 L186.80,372.46 L187.40,372.45 L188.00,372.45 L188.60,372.45 L189.20,372.46 L189.80,372.46 L190.40,372.46 L191.00,372.46 L191.60,372.46 L192.20,372.47 L192.80,372.47 L193.40,372.47 L194.00,372.47 L194.60,372.47 L195.20,372.47 L195.80,372.47 L196.40,372.47 L197.00,372.47 L197.60,372.48 L198.20,372.48 L198.80,372.48 L199.40,372.48 L200.00,372.48 L200.60,372.48 L201.20,372.49 L201.80,372.49 L202.40,372.49 L203.00,372.48 L203.60,372.48 L204.20,372.48 L204.80,372.49 L205.40,372.49 L206.00,372.49 L206.60,372.49 L207.20,372.49 L207.80,372.49 L208.40,372.49 L209.00,372.49 L209.60,372.49 L210.20,372.49 L210.80,372.49 L211.40,372.50 L212.00,372.50 L212.60,372.49 L213.20,372.50 L213.80,372.50 L214.40,372.50 L215.00,372.50 L215.60,372.50 L216.20,372.50 L216.80,372.50 L217.40,372.50 L218.00,372.50 L218.60,372.50 L219.20,372.50 L219.80,372.50 L220.40,372.50 L221.00,372.50 L221.60,372.50 L222.20,372.50 L222.80,372.50 L223.40,372.50 L224.00,372.50 L224.60,372.50 L225.20,372.50 L225.80,372.50 L226.40,372.50 L227.00,372.50 L227.60,372.50 L228.20,372.50 L228.80,372.50 L229.40,372.50 L230.00,372.50 L230.60,372.50 L231.20,372.50 L231.80,372.50" fill="none" stroke="#1a1a1a" stroke-width="1.2" stroke-linejoin="round"/>
<line x1="89" y1="372.5" x2="232.3" y2="372.5" stroke="#333" stroke-width="1"/>
<text x="150" y="409.3" font-size="10.4" font-weight="bold" text-anchor="middle" fill="#000" stroke="#000" stroke-width="0.4" textLength="52.5" lengthAdjust="spacingAndGlyphs">CD80 FITC</text>
<text transform="translate(38.3,297.7) rotate(-90)" font-size="10.2" font-weight="bold" text-anchor="middle" stroke="#000" stroke-width="0.4">Unit distribution</text>
<line x1="305.3" y1="391.9" x2="305.3" y2="216" stroke="#000" stroke-width="2.8"/>
<polygon points="301.8,217.2 305.3,211 308.8,217.2 305.3,216.2" fill="#000"/>
<line x1="303.90000000000003" y1="391.9" x2="501.5" y2="391.9" stroke="#000" stroke-width="2.8"/>
<polygon points="500.3,388.4 506.5,391.9 500.3,395.4 501.3,391.9" fill="#000"/>
<rect x="343.5" y="229.6" width="142.8" height="142.9" fill="none" stroke="#7a7a7a" stroke-width="1"/>
<line x1="340.0" y1="229.60" x2="343.5" y2="229.60" stroke="#555" stroke-width="1"/>
<text x="337.7" y="233.9" font-size="6.8" font-weight="normal" text-anchor="end" fill="#3a3a3a"  >0.0343</text>
<line x1="340.0" y1="258.18" x2="343.5" y2="258.18" stroke="#555" stroke-width="1"/>
<text x="337.7" y="262.48" font-size="6.8" font-weight="normal" text-anchor="end" fill="#3a3a3a"  >0.0274</text>
<line x1="340.0" y1="286.76" x2="343.5" y2="286.76" stroke="#555" stroke-width="1"/>
<text x="337.7" y="291.06" font-size="6.8" font-weight="normal" text-anchor="end" fill="#3a3a3a"  >0.0206</text>
<line x1="340.0" y1="315.34" x2="343.5" y2="315.34" stroke="#555" stroke-width="1"/>
<text x="337.7" y="319.64" font-size="6.8" font-weight="normal" text-anchor="end" fill="#3a3a3a"  >0.0137</text>
<line x1="340.0" y1="343.92" x2="343.5" y2="343.92" stroke="#555" stroke-width="1"/>
<text x="337.7" y="348.22" font-size="6.8" font-weight="normal" text-anchor="end" fill="#3a3a3a"  >0.0069</text>
<line x1="397.0" y1="372.5" x2="397.0" y2="375.5" stroke="#444" stroke-width="0.8"/>
<line x1="404.9" y1="372.5" x2="404.9" y2="374.3" stroke="#444" stroke-width="0.8"/>
<line x1="409.5" y1="372.5" x2="409.5" y2="374.3" stroke="#444" stroke-width="0.8"/>
<line x1="412.8" y1="372.5" x2="412.8" y2="374.3" stroke="#444" stroke-width="0.8"/>
<line x1="415.3" y1="372.5" x2="415.3" y2="374.3" stroke="#444" stroke-width="0.8"/>
<line x1="417.4" y1="372.5" x2="417.4" y2="374.3" stroke="#444" stroke-width="0.8"/>
<line x1="419.2" y1="372.5" x2="419.2" y2="374.3" stroke="#444" stroke-width="0.8"/>
<line x1="420.7" y1="372.5" x2="420.7" y2="374.3" stroke="#444" stroke-width="0.8"/>
<line x1="422.0" y1="372.5" x2="422.0" y2="374.3" stroke="#444" stroke-width="0.8"/>
<line x1="423.2" y1="372.5" x2="423.2" y2="375.5" stroke="#444" stroke-width="0.8"/>
<line x1="431.2" y1="372.5" x2="431.2" y2="374.3" stroke="#444" stroke-width="0.8"/>
<line x1="435.8" y1="372.5" x2="435.8" y2="374.3" stroke="#444" stroke-width="0.8"/>
<line x1="439.1" y1="372.5" x2="439.1" y2="374.3" stroke="#444" stroke-width="0.8"/>
<line x1="441.6" y1="372.5" x2="441.6" y2="374.3" stroke="#444" stroke-width="0.8"/>
<line x1="443.7" y1="372.5" x2="443.7" y2="374.3" stroke="#444" stroke-width="0.8"/>
<line x1="445.4" y1="372.5" x2="445.4" y2="374.3" stroke="#444" stroke-width="0.8"/>
<line x1="447.0" y1="372.5" x2="447.0" y2="374.3" stroke="#444" stroke-width="0.8"/>
<line x1="448.3" y1="372.5" x2="448.3" y2="374.3" stroke="#444" stroke-width="0.8"/>
<line x1="449.5" y1="372.5" x2="449.5" y2="375.5" stroke="#444" stroke-width="0.8"/>
<line x1="457.4" y1="372.5" x2="457.4" y2="374.3" stroke="#444" stroke-width="0.8"/>
<line x1="462.0" y1="372.5" x2="462.0" y2="374.3" stroke="#444" stroke-width="0.8"/>
<line x1="465.3" y1="372.5" x2="465.3" y2="374.3" stroke="#444" stroke-width="0.8"/>
<line x1="467.8" y1="372.5" x2="467.8" y2="374.3" stroke="#444" stroke-width="0.8"/>
<line x1="469.9" y1="372.5" x2="469.9" y2="374.3" stroke="#444" stroke-width="0.8"/>
<line x1="471.7" y1="372.5" x2="471.7" y2="374.3" stroke="#444" stroke-width="0.8"/>
<line x1="473.2" y1="372.5" x2="473.2" y2="374.3" stroke="#444" stroke-width="0.8"/>
<line x1="474.5" y1="372.5" x2="474.5" y2="374.3" stroke="#444" stroke-width="0.8"/>
<line x1="475.8" y1="372.5" x2="475.8" y2="375.5" stroke="#444" stroke-width="0.8"/>
<line x1="483.7" y1="372.5" x2="483.7" y2="374.3" stroke="#444" stroke-width="0.8"/>
<line x1="382.4" y1="372.5" x2="382.4" y2="375.5" stroke="#444" stroke-width="0.8"/>
<line x1="383.9" y1="372.5" x2="383.9" y2="374.1" stroke="#444" stroke-width="0.8"/>
<line x1="385.3" y1="372.5" x2="385.3" y2="374.1" stroke="#444" stroke-width="0.8"/>
<line x1="386.8" y1="372.5" x2="386.8" y2="374.1" stroke="#444" stroke-width="0.8"/>
<line x1="388.2" y1="372.5" x2="388.2" y2="374.1" stroke="#444" stroke-width="0.8"/>
<line x1="389.7" y1="372.5" x2="389.7" y2="374.1" stroke="#444" stroke-width="0.8"/>
<line x1="391.2" y1="372.5" x2="391.2" y2="374.1" stroke="#444" stroke-width="0.8"/>
<line x1="392.6" y1="372.5" x2="392.6" y2="374.1" stroke="#444" stroke-width="0.8"/>
<line x1="394.1" y1="372.5" x2="394.1" y2="374.1" stroke="#444" stroke-width="0.8"/>
<line x1="395.5" y1="372.5" x2="395.5" y2="374.1" stroke="#444" stroke-width="0.8"/>
<line x1="367.8" y1="372.5" x2="367.8" y2="375.0" stroke="#444" stroke-width="0.8"/>
<line x1="361.5" y1="372.5" x2="361.5" y2="374.1" stroke="#444" stroke-width="0.8"/>
<line x1="357.8" y1="372.5" x2="357.8" y2="374.1" stroke="#444" stroke-width="0.8"/>
<line x1="355.2" y1="372.5" x2="355.2" y2="374.1" stroke="#444" stroke-width="0.8"/>
<line x1="353.1" y1="372.5" x2="353.1" y2="374.1" stroke="#444" stroke-width="0.8"/>
<line x1="351.5" y1="372.5" x2="351.5" y2="374.1" stroke="#444" stroke-width="0.8"/>
<line x1="350.1" y1="372.5" x2="350.1" y2="374.1" stroke="#444" stroke-width="0.8"/>
<line x1="348.8" y1="372.5" x2="348.8" y2="374.1" stroke="#444" stroke-width="0.8"/>
<line x1="347.8" y1="372.5" x2="347.8" y2="374.1" stroke="#444" stroke-width="0.8"/>
<line x1="380.9" y1="372.5" x2="380.9" y2="374.1" stroke="#444" stroke-width="0.8"/>
<line x1="379.5" y1="372.5" x2="379.5" y2="374.1" stroke="#444" stroke-width="0.8"/>
<line x1="378.0" y1="372.5" x2="378.0" y2="374.1" stroke="#444" stroke-width="0.8"/>
<line x1="376.6" y1="372.5" x2="376.6" y2="374.1" stroke="#444" stroke-width="0.8"/>
<line x1="375.1" y1="372.5" x2="375.1" y2="374.1" stroke="#444" stroke-width="0.8"/>
<line x1="373.6" y1="372.5" x2="373.6" y2="374.1" stroke="#444" stroke-width="0.8"/>
<line x1="372.2" y1="372.5" x2="372.2" y2="374.1" stroke="#444" stroke-width="0.8"/>
<line x1="370.7" y1="372.5" x2="370.7" y2="374.1" stroke="#444" stroke-width="0.8"/>
<line x1="369.3" y1="372.5" x2="369.3" y2="374.1" stroke="#444" stroke-width="0.8"/>
<text x="382.4" y="384.4" font-size="7.0" font-weight="normal" text-anchor="middle" fill="#3a3a3a"  >0</text>
<text x="423.3" y="384.4" font-size="7.0" font-weight="normal" text-anchor="middle" fill="#3a3a3a"  >1000</text>
<text x="449.6" y="384.4" font-size="7.0" font-weight="normal" text-anchor="middle" fill="#3a3a3a"  >10000</text>
<text x="475.8" y="384.4" font-size="7.0" font-weight="normal" text-anchor="middle" fill="#3a3a3a"  >100000</text>
<path d="M343.50,372.50 L344.10,372.45 L344.70,372.39 L345.30,372.33 L345.90,372.31 L346.50,372.27 L347.10,372.15 L347.70,372.07 L348.30,372.03 L348.90,371.91 L349.50,371.78 L350.10,371.76 L350.70,371.73 L351.30,371.70 L351.90,371.70 L352.50,371.62 L353.10,371.46 L353.70,371.24 L354.30,371.01 L354.90,370.96 L355.50,370.93 L356.10,370.79 L356.70,370.62 L357.30,370.60 L357.90,370.92 L358.50,370.93 L359.10,370.41 L359.70,370.09 L360.30,370.08 L360.90,370.15 L361.50,369.95 L362.10,369.54 L362.70,369.28 L363.30,368.97 L363.90,368.72 L364.50,368.64 L365.10,368.41 L365.70,368.26 L366.30,368.19 L366.90,367.73 L367.50,366.99 L368.10,365.99 L368.70,364.85 L369.30,364.01 L369.90,363.21 L370.50,362.36 L371.10,361.71 L371.70,360.57 L372.30,359.12 L372.90,358.18 L373.50,357.52 L374.10,356.63 L374.70,355.07 L375.30,353.62 L375.90,353.11 L376.50,352.60 L377.10,351.25 L377.70,349.99 L378.30,348.67 L378.90,347.28 L379.50,346.79 L380.10,346.31 L380.70,345.39 L381.30,344.43 L381.90,343.24 L382.50,342.10 L383.10,341.24 L383.70,340.87 L384.30,340.47 L384.90,339.28 L385.50,337.90 L386.10,336.69 L386.70,336.12 L387.30,335.70 L387.90,334.41 L388.50,333.44 L389.10,333.09 L389.70,332.96 L390.30,332.36 L390.90,331.05 L391.50,330.77 L392.10,330.55 L392.70,329.48 L393.30,329.06 L393.90,329.43 L394.50,329.25 L395.10,327.97 L395.70,327.35 L396.30,328.00 L396.90,328.04 L397.50,326.75 L398.10,326.13 L398.70,326.72 L399.30,326.96 L399.90,326.91 L400.50,326.71 L401.10,326.47 L401.70,326.95 L402.30,327.95 L402.90,327.88 L403.50,326.99 L404.10,327.60 L404.70,328.80 L405.30,328.58 L405.90,328.35 L406.50,329.03 L407.10,329.64 L407.70,329.94 L408.30,330.24 L408.90,330.63 L409.50,331.21 L410.10,331.71 L410.70,331.96 L411.30,332.42 L411.90,333.33 L412.50,334.23 L413.10,334.54 L413.70,334.79 L414.30,335.43 L414.90,336.16 L415.50,336.81 L416.10,337.49 L416.70,338.33 L417.30,338.65 L417.90,338.46 L418.50,338.83 L419.10,339.74 L419.70,340.28 L420.30,340.23 L420.90,340.04 L421.50,340.62 L422.10,342.07 L422.70,343.25 L423.30,343.51 L423.90,343.72 L424.50,344.50 L425.10,345.10 L425.70,345.75 L426.30,346.30 L426.90,346.47 L427.50,346.62 L428.10,346.92 L428.70,347.54 L429.30,348.51 L429.90,349.85 L430.50,351.04 L431.10,351.92 L431.70,352.37 L432.30,352.72 L432.90,353.35 L433.50,353.93 L434.10,354.53 L434.70,354.71 L435.30,354.68 L435.90,355.21 L436.50,355.81 L437.10,356.47 L437.70,357.80 L438.30,358.89 L438.90,359.28 L439.50,359.59 L440.10,360.34 L440.70,361.73 L441.30,362.66 L441.90,363.38 L442.50,365.04 L443.10,366.32 L443.70,366.82 L444.30,367.44 L444.90,368.52 L445.50,369.53 L446.10,370.17 L446.70,371.05 L447.30,371.69 L447.90,371.99 L448.50,372.22 L449.10,372.29 L449.70,372.29 L450.30,372.31 L450.90,372.33 L451.50,372.32 L452.10,372.35 L452.70,372.38 L453.30,372.37 L453.90,372.34 L454.50,372.34 L455.10,372.36 L455.70,372.39 L456.30,372.41 L456.90,372.40 L457.50,372.39 L458.10,372.39 L458.70,372.41 L459.30,372.42 L459.90,372.42 L460.50,372.43 L461.10,372.44 L461.70,372.44 L462.30,372.43 L462.90,372.43 L463.50,372.44 L464.10,372.45 L464.70,372.45 L465.30,372.46 L465.90,372.46 L466.50,372.47 L467.10,372.47 L467.70,372.47 L468.30,372.47 L468.90,372.47 L469.50,372.48 L470.10,372.48 L470.70,372.48 L471.30,372.48 L471.90,372.49 L472.50,372.49 L473.10,372.49 L473.70,372.49 L474.30,372.49 L474.90,372.49 L475.50,372.49 L476.10,372.49 L476.70,372.50 L477.30,372.50 L477.90,372.50 L478.50,372.50 L479.10,372.50 L479.70,372.50 L480.30,372.50 L480.90,372.50 L481.50,372.50 L482.10,372.50 L482.70,372.50 L483.30,372.50 L483.90,372.50 L484.50,372.50 L485.10,372.50 L485.70,372.50" fill="none" stroke="#8ec8ee" stroke-width="1.2" stroke-linejoin="round"/>
<path d="M343.50,372.50 L344.10,372.40 L344.70,372.25 L345.30,372.16 L345.90,372.09 L346.50,371.94 L347.10,371.80 L347.70,371.63 L348.30,371.59 L348.90,371.66 L349.50,371.33 L350.10,370.86 L350.70,370.70 L351.30,370.68 L351.90,370.64 L352.50,370.47 L353.10,369.99 L353.70,369.53 L354.30,369.51 L354.90,369.32 L355.50,368.74 L356.10,368.20 L356.70,367.98 L357.30,367.95 L357.90,367.62 L358.50,367.18 L359.10,367.18 L359.70,366.91 L360.30,366.16 L360.90,365.69 L361.50,365.67 L362.10,365.26 L362.70,364.29 L363.30,363.83 L363.90,363.60 L364.50,363.69 L365.10,363.74 L365.70,363.15 L366.30,362.54 L366.90,362.42 L367.50,362.68 L368.10,362.40 L368.70,361.30 L369.30,359.90 L369.90,359.40 L370.50,359.52 L371.10,358.88 L371.70,358.16 L372.30,357.49 L372.90,356.81 L373.50,356.57 L374.10,356.13 L374.70,355.27 L375.30,354.47 L375.90,353.81 L376.50,353.28 L377.10,353.17 L377.70,353.04 L378.30,352.50 L378.90,351.94 L379.50,350.87 L380.10,349.92 L380.70,350.12 L381.30,350.16 L381.90,349.74 L382.50,349.21 L383.10,348.66 L383.70,348.86 L384.30,349.53 L384.90,349.54 L385.50,348.71 L386.10,348.56 L386.70,348.90 L387.30,348.98 L387.90,349.26 L388.50,348.86 L389.10,348.47 L389.70,349.19 L390.30,349.25 L390.90,348.77 L391.50,349.01 L392.10,349.27 L392.70,349.28 L393.30,348.79 L393.90,348.54 L394.50,349.41 L395.10,350.36 L395.70,350.87 L396.30,350.75 L396.90,350.08 L397.50,349.44 L398.10,349.19 L398.70,349.02 L399.30,348.56 L399.90,347.58 L400.50,346.58 L401.10,346.44 L401.70,346.61 L402.30,346.31 L402.90,344.82 L403.50,343.05 L404.10,341.68 L404.70,340.02 L405.30,338.25 L405.90,337.02 L406.50,336.35 L407.10,334.71 L407.70,332.44 L408.30,331.12 L408.90,329.95 L409.50,328.20 L410.10,326.04 L410.70,323.83 L411.30,322.13 L411.90,321.00 L412.50,319.45 L413.10,317.22 L413.70,315.70 L414.30,314.89 L414.90,313.95 L415.50,313.31 L416.10,312.77 L416.70,312.46 L417.30,312.32 L417.90,311.73 L418.50,310.92 L419.10,310.11 L419.70,310.08 L420.30,311.16 L420.90,312.42 L421.50,314.12 L422.10,315.82 L422.70,316.83 L423.30,317.93 L423.90,319.37 L424.50,320.44 L425.10,321.37 L425.70,322.77 L426.30,324.37 L426.90,325.76 L427.50,327.33 L428.10,329.52 L428.70,331.91 L429.30,333.81 L429.90,335.36 L430.50,336.85 L431.10,339.55 L431.70,343.24 L432.30,346.42 L432.90,349.34 L433.50,351.36 L434.10,353.26 L434.70,356.01 L435.30,358.11 L435.90,359.50 L436.50,361.07 L437.10,362.19 L437.70,363.30 L438.30,364.68 L438.90,366.25 L439.50,367.47 L440.10,367.84 L440.70,368.83 L441.30,369.50 L441.90,369.41 L442.50,370.01 L443.10,370.85 L443.70,371.34 L444.30,371.75 L444.90,371.99 L445.50,371.99 L446.10,371.90 L446.70,371.90 L447.30,371.99 L447.90,372.05 L448.50,372.09 L449.10,372.10 L449.70,372.11 L450.30,372.20 L450.90,372.24 L451.50,372.20 L452.10,372.16 L452.70,372.17 L453.30,372.19 L453.90,372.20 L454.50,372.22 L455.10,372.26 L455.70,372.29 L456.30,372.29 L456.90,372.30 L457.50,372.33 L458.10,372.31 L458.70,372.27 L459.30,372.30 L459.90,372.35 L460.50,372.37 L461.10,372.36 L461.70,372.36 L462.30,372.37 L462.90,372.39 L463.50,372.39 L464.10,372.39 L464.70,372.40 L465.30,372.41 L465.90,372.41 L466.50,372.41 L467.10,372.43 L467.70,372.44 L468.30,372.44 L468.90,372.45 L469.50,372.46 L470.10,372.46 L470.70,372.46 L471.30,372.46 L471.90,372.47 L472.50,372.47 L473.10,372.48 L473.70,372.48 L474.30,372.48 L474.90,372.48 L475.50,372.48 L476.10,372.49 L476.70,372.49 L477.30,372.49 L477.90,372.49 L478.50,372.49 L479.10,372.49 L479.70,372.50 L480.30,372.50 L480.90,372.50 L481.50,372.50 L482.10,372.50 L482.70,372.50 L483.30,372.50 L483.90,372.50 L484.50,372.50 L485.10,372.50 L485.70,372.50" fill="none" stroke="#aa24a8" stroke-width="1.2" stroke-linejoin="round"/>
<path d="M343.50,372.50 L344.10,372.49 L344.70,372.47 L345.30,372.46 L345.90,372.43 L346.50,372.39 L347.10,372.35 L347.70,372.31 L348.30,372.25 L348.90,372.22 L349.50,372.22 L350.10,372.15 L350.70,372.06 L351.30,371.95 L351.90,371.82 L352.50,371.69 L353.10,371.72 L353.70,371.85 L354.30,371.89 L354.90,371.77 L355.50,371.58 L356.10,371.37 L356.70,371.19 L357.30,371.16 L357.90,371.11 L358.50,370.99 L359.10,370.88 L359.70,370.51 L360.30,370.10 L360.90,369.93 L361.50,369.70 L362.10,369.77 L362.70,370.05 L363.30,369.89 L363.90,369.75 L364.50,369.87 L365.10,369.43 L365.70,368.66 L366.30,368.24 L366.90,367.48 L367.50,366.48 L368.10,365.43 L368.70,364.08 L369.30,363.09 L369.90,362.45 L370.50,361.39 L371.10,359.86 L371.70,358.68 L372.30,358.03 L372.90,357.01 L373.50,355.61 L374.10,354.03 L374.70,352.24 L375.30,350.94 L375.90,350.14 L376.50,349.19 L377.10,348.68 L377.70,348.46 L378.30,347.39 L378.90,346.46 L379.50,346.69 L380.10,346.79 L380.70,346.23 L381.30,345.66 L381.90,344.89 L382.50,344.24 L383.10,344.08 L383.70,344.57 L384.30,344.90 L384.90,344.73 L385.50,344.85 L386.10,344.67 L386.70,344.87 L387.30,345.64 L387.90,345.94 L388.50,345.66 L389.10,345.65 L389.70,346.31 L390.30,347.46 L390.90,348.68 L391.50,348.98 L392.10,348.90 L392.70,349.17 L393.30,349.65 L393.90,350.56 L394.50,351.69 L395.10,352.42 L395.70,352.79 L396.30,352.97 L396.90,353.62 L397.50,354.37 L398.10,354.08 L398.70,354.11 L399.30,354.83 L399.90,355.01 L400.50,355.40 L401.10,355.88 L401.70,355.91 L402.30,356.01 L402.90,356.20 L403.50,356.66 L404.10,356.46 L404.70,355.43 L405.30,354.66 L405.90,354.24 L406.50,354.22 L407.10,353.64 L407.70,352.48 L408.30,351.57 L408.90,350.29 L409.50,348.86 L410.10,348.37 L410.70,348.23 L411.30,347.02 L411.90,345.24 L412.50,343.99 L413.10,342.68 L413.70,341.06 L414.30,340.61 L414.90,340.28 L415.50,338.59 L416.10,337.11 L416.70,335.86 L417.30,334.26 L417.90,333.24 L418.50,332.48 L419.10,331.33 L419.70,330.03 L420.30,328.71 L420.90,327.36 L421.50,326.04 L422.10,324.76 L422.70,323.06 L423.30,320.71 L423.90,318.96 L424.50,318.46 L425.10,317.30 L425.70,315.22 L426.30,314.07 L426.90,314.24 L427.50,314.60 L428.10,314.27 L428.70,314.28 L429.30,314.96 L429.90,315.38 L430.50,315.26 L431.10,315.68 L431.70,317.16 L432.30,319.06 L432.90,320.33 L433.50,320.95 L434.10,321.97 L434.70,324.18 L435.30,326.92 L435.90,329.58 L436.50,332.58 L437.10,335.64 L437.70,338.82 L438.30,342.46 L438.90,345.96 L439.50,349.12 L440.10,353.00 L440.70,356.77 L441.30,359.01 L441.90,361.41 L442.50,364.15 L443.10,365.81 L443.70,366.96 L444.30,368.91 L444.90,370.91 L445.50,371.74 L446.10,371.98 L446.70,372.13 L447.30,372.25 L447.90,372.29 L448.50,372.29 L449.10,372.31 L449.70,372.33 L450.30,372.35 L450.90,372.35 L451.50,372.35 L452.10,372.36 L452.70,372.36 L453.30,372.35 L453.90,372.36 L454.50,372.36 L455.10,372.38 L455.70,372.39 L456.30,372.40 L456.90,372.41 L457.50,372.41 L458.10,372.41 L458.70,372.41 L459.30,372.41 L459.90,372.42 L460.50,372.43 L461.10,372.43 L461.70,372.44 L462.30,372.43 L462.90,372.43 L463.50,372.45 L464.10,372.46 L464.70,372.46 L465.30,372.47 L465.90,372.47 L466.50,372.47 L467.10,372.47 L467.70,372.47 L468.30,372.47 L468.90,372.47 L469.50,372.48 L470.10,372.48 L470.70,372.48 L471.30,372.48 L471.90,372.49 L472.50,372.49 L473.10,372.49 L473.70,372.49 L474.30,372.49 L474.90,372.49 L475.50,372.49 L476.10,372.49 L476.70,372.49 L477.30,372.50 L477.90,372.50 L478.50,372.50 L479.10,372.50 L479.70,372.50 L480.30,372.50 L480.90,372.50 L481.50,372.50 L482.10,372.50 L482.70,372.50 L483.30,372.50 L483.90,372.50 L484.50,372.50 L485.10,372.50 L485.70,372.50" fill="none" stroke="#8e5a1c" stroke-width="1.2" stroke-linejoin="round"/>
<path d="M343.50,372.50 L344.10,372.50 L344.70,372.49 L345.30,372.47 L345.90,372.44 L346.50,372.43 L347.10,372.43 L347.70,372.38 L348.30,372.30 L348.90,372.23 L349.50,372.18 L350.10,372.12 L350.70,372.07 L351.30,372.02 L351.90,372.01 L352.50,371.91 L353.10,371.69 L353.70,371.61 L354.30,371.49 L354.90,371.31 L355.50,371.25 L356.10,371.26 L356.70,371.09 L357.30,370.77 L357.90,370.84 L358.50,370.94 L359.10,370.49 L359.70,369.95 L360.30,369.30 L360.90,368.77 L361.50,368.81 L362.10,368.86 L362.70,369.02 L363.30,369.14 L363.90,368.38 L364.50,367.75 L365.10,367.15 L365.70,365.80 L366.30,364.94 L366.90,364.66 L367.50,364.26 L368.10,363.59 L368.70,362.45 L369.30,359.60 L369.90,354.88 L370.50,349.15 L371.10,344.52 L371.70,341.20 L372.30,337.78 L372.90,334.20 L373.50,331.44 L374.10,328.87 L374.70,326.16 L375.30,323.69 L375.90,320.72 L376.50,317.62 L377.10,315.42 L377.70,313.79 L378.30,312.32 L378.90,311.00 L379.50,310.12 L380.10,309.38 L380.70,308.38 L381.30,306.95 L381.90,306.13 L382.50,306.21 L383.10,306.01 L383.70,305.76 L384.30,305.49 L384.90,305.44 L385.50,305.55 L386.10,305.45 L386.70,305.47 L387.30,305.78 L387.90,306.85 L388.50,308.02 L389.10,309.46 L389.70,311.51 L390.30,314.02 L390.90,316.02 L391.50,317.40 L392.10,319.65 L392.70,322.57 L393.30,325.37 L393.90,327.75 L394.50,330.04 L395.10,332.54 L395.70,335.32 L396.30,337.78 L396.90,339.68 L397.50,341.54 L398.10,343.69 L398.70,346.43 L399.30,348.77 L399.90,350.43 L400.50,351.60 L401.10,351.97 L401.70,352.68 L402.30,354.13 L402.90,355.62 L403.50,356.80 L404.10,357.57 L404.70,358.36 L405.30,359.04 L405.90,359.13 L406.50,359.09 L407.10,360.08 L407.70,360.94 L408.30,360.62 L408.90,361.21 L409.50,362.35 L410.10,362.26 L410.70,361.93 L411.30,362.38 L411.90,363.15 L412.50,363.20 L413.10,362.89 L413.70,363.12 L414.30,363.47 L414.90,363.77 L415.50,363.67 L416.10,362.75 L416.70,362.24 L417.30,362.92 L417.90,363.49 L418.50,363.09 L419.10,362.97 L419.70,362.89 L420.30,362.14 L420.90,361.67 L421.50,361.24 L422.10,360.79 L422.70,360.75 L423.30,360.33 L423.90,359.18 L424.50,358.10 L425.10,357.63 L425.70,357.54 L426.30,357.24 L426.90,356.56 L427.50,355.69 L428.10,355.34 L428.70,355.18 L429.30,354.52 L429.90,353.99 L430.50,353.38 L431.10,352.27 L431.70,351.69 L432.30,351.94 L432.90,351.93 L433.50,351.15 L434.10,349.84 L434.70,348.97 L435.30,348.82 L435.90,349.37 L436.50,350.11 L437.10,350.07 L437.70,349.73 L438.30,349.90 L438.90,350.27 L439.50,350.56 L440.10,351.14 L440.70,351.36 L441.30,351.51 L441.90,353.40 L442.50,355.79 L443.10,357.37 L443.70,358.89 L444.30,360.47 L444.90,362.51 L445.50,364.67 L446.10,365.94 L446.70,366.39 L447.30,367.62 L447.90,369.78 L448.50,371.14 L449.10,371.64 L449.70,371.85 L450.30,371.88 L450.90,371.83 L451.50,371.93 L452.10,371.98 L452.70,371.97 L453.30,371.98 L453.90,371.94 L454.50,371.93 L455.10,371.96 L455.70,372.04 L456.30,372.10 L456.90,372.09 L457.50,372.08 L458.10,372.13 L458.70,372.18 L459.30,372.22 L459.90,372.24 L460.50,372.22 L461.10,372.22 L461.70,372.25 L462.30,372.28 L462.90,372.29 L463.50,372.33 L464.10,372.36 L464.70,372.35 L465.30,372.36 L465.90,372.38 L466.50,372.37 L467.10,372.37 L467.70,372.38 L468.30,372.41 L468.90,372.42 L469.50,372.42 L470.10,372.43 L470.70,372.45 L471.30,372.45 L471.90,372.44 L472.50,372.45 L473.10,372.46 L473.70,372.46 L474.30,372.47 L474.90,372.47 L475.50,372.47 L476.10,372.47 L476.70,372.48 L477.30,372.48 L477.90,372.49 L478.50,372.49 L479.10,372.49 L479.70,372.49 L480.30,372.49 L480.90,372.50 L481.50,372.50 L482.10,372.50 L482.70,372.50 L483.30,372.50 L483.90,372.50 L484.50,372.50 L485.10,372.50 L485.70,372.50" fill="none" stroke="#2b6bd6" stroke-width="1.2" stroke-linejoin="round"/>
<path d="M343.50,372.50 L344.10,372.50 L344.70,372.49 L345.30,372.48 L345.90,372.46 L346.50,372.44 L347.10,372.41 L347.70,372.38 L348.30,372.35 L348.90,372.31 L349.50,372.29 L350.10,372.28 L350.70,372.22 L351.30,372.11 L351.90,372.02 L352.50,372.00 L353.10,372.00 L353.70,371.97 L354.30,371.87 L354.90,371.80 L355.50,371.77 L356.10,371.64 L356.70,371.61 L357.30,371.71 L357.90,371.65 L358.50,371.42 L359.10,371.10 L359.70,370.86 L360.30,370.80 L360.90,370.70 L361.50,370.44 L362.10,370.17 L362.70,369.99 L363.30,369.87 L363.90,369.95 L364.50,370.00 L365.10,369.30 L365.70,368.22 L366.30,367.51 L366.90,367.07 L367.50,366.68 L368.10,365.75 L368.70,363.58 L369.30,360.76 L369.90,357.61 L370.50,352.89 L371.10,347.22 L371.70,341.67 L372.30,336.90 L372.90,331.63 L373.50,325.37 L374.10,319.33 L374.70,312.28 L375.30,303.96 L375.90,295.99 L376.50,288.52 L377.10,281.33 L377.70,274.96 L378.30,269.80 L378.90,265.26 L379.50,261.13 L380.10,257.67 L380.70,255.72 L381.30,254.46 L381.90,253.32 L382.50,252.53 L383.10,252.65 L383.70,252.97 L384.30,253.81 L384.90,255.20 L385.50,255.83 L386.10,257.90 L386.70,261.85 L387.30,265.74 L387.90,269.56 L388.50,273.65 L389.10,278.18 L389.70,283.38 L390.30,288.98 L390.90,294.82 L391.50,300.74 L392.10,307.02 L392.70,313.40 L393.30,319.93 L393.90,326.59 L394.50,332.86 L395.10,339.18 L395.70,345.36 L396.30,350.55 L396.90,354.88 L397.50,358.48 L398.10,360.75 L398.70,362.33 L399.30,363.95 L399.90,365.32 L400.50,366.39 L401.10,367.52 L401.70,368.69 L402.30,369.06 L402.90,369.08 L403.50,369.39 L404.10,369.73 L404.70,370.29 L405.30,370.79 L405.90,370.88 L406.50,370.96 L407.10,371.32 L407.70,371.65 L408.30,371.82 L408.90,371.84 L409.50,371.77 L410.10,371.79 L410.70,371.81 L411.30,371.85 L411.90,371.92 L412.50,371.91 L413.10,371.88 L413.70,371.86 L414.30,371.81 L414.90,371.83 L415.50,371.93 L416.10,371.92 L416.70,371.86 L417.30,371.89 L417.90,372.01 L418.50,372.11 L419.10,372.12 L419.70,372.05 L420.30,371.97 L420.90,372.02 L421.50,372.09 L422.10,372.11 L422.70,372.10 L423.30,372.13 L423.90,372.20 L424.50,372.20 L425.10,372.13 L425.70,372.13 L426.30,372.19 L426.90,372.19 L427.50,372.22 L428.10,372.24 L428.70,372.18 L429.30,372.18 L429.90,372.20 L430.50,372.22 L431.10,372.26 L431.70,372.29 L432.30,372.27 L432.90,372.26 L433.50,372.27 L434.10,372.25 L434.70,372.27 L435.30,372.30 L435.90,372.28 L436.50,372.26 L437.10,372.27 L437.70,372.25 L438.30,372.26 L438.90,372.30 L439.50,372.30 L440.10,372.30 L440.70,372.31 L441.30,372.30 L441.90,372.31 L442.50,372.36 L443.10,372.39 L443.70,372.39 L444.30,372.36 L444.90,372.35 L445.50,372.35 L446.10,372.36 L446.70,372.38 L447.30,372.39 L447.90,372.39 L448.50,372.39 L449.10,372.38 L449.70,372.39 L450.30,372.40 L450.90,372.39 L451.50,372.40 L452.10,372.41 L452.70,372.41 L453.30,372.43 L453.90,372.44 L454.50,372.44 L455.10,372.44 L455.70,372.44 L456.30,372.44 L456.90,372.44 L457.50,372.44 L458.10,372.44 L458.70,372.44 L459.30,372.45 L459.90,372.46 L460.50,372.46 L461.10,372.46 L461.70,372.46 L462.30,372.46 L462.90,372.48 L463.50,372.48 L464.10,372.48 L464.70,372.47 L465.30,372.47 L465.90,372.47 L466.50,372.48 L467.10,372.48 L467.70,372.48 L468.30,372.48 L468.90,372.48 L469.50,372.48 L470.10,372.49 L470.70,372.49 L471.30,372.49 L471.90,372.49 L472.50,372.49 L473.10,372.49 L473.70,372.49 L474.30,372.49 L474.90,372.49 L475.50,372.50 L476.10,372.50 L476.70,372.50 L477.30,372.50 L477.90,372.50 L478.50,372.50 L479.10,372.50 L479.70,372.50 L480.30,372.50 L480.90,372.50 L481.50,372.50 L482.10,372.50 L482.70,372.50 L483.30,372.50 L483.90,372.50 L484.50,372.50 L485.10,372.50 L485.70,372.50" fill="none" stroke="#22c02a" stroke-width="1.2" stroke-linejoin="round"/>
<path d="M343.50,372.50 L344.10,372.50 L344.70,372.50 L345.30,372.50 L345.90,372.50 L346.50,372.50 L347.10,372.50 L347.70,372.50 L348.30,372.50 L348.90,372.50 L349.50,372.50 L350.10,372.50 L350.70,372.50 L351.30,372.50 L351.90,372.50 L352.50,372.50 L353.10,372.50 L353.70,372.50 L354.30,372.50 L354.90,372.50 L355.50,372.50 L356.10,372.50 L356.70,372.50 L357.30,372.50 L357.90,372.50 L358.50,372.50 L359.10,372.50 L359.70,372.50 L360.30,372.50 L360.90,372.50 L361.50,372.50 L362.10,372.50 L362.70,372.50 L363.30,372.50 L363.90,372.50 L364.50,372.50 L365.10,372.50 L365.70,372.50 L366.30,372.50 L366.90,372.39 L367.50,371.85 L368.10,371.02 L368.70,369.54 L369.30,367.58 L369.90,364.03 L370.50,358.87 L371.10,353.69 L371.70,348.50 L372.30,342.94 L372.90,337.17 L373.50,330.43 L374.10,322.74 L374.70,314.41 L375.30,306.41 L375.90,299.47 L376.50,292.56 L377.10,285.99 L377.70,279.73 L378.30,273.15 L378.90,267.66 L379.50,264.27 L380.10,262.03 L380.70,259.49 L381.30,257.42 L381.90,256.57 L382.50,256.25 L383.10,256.03 L383.70,256.14 L384.30,257.19 L384.90,259.38 L385.50,262.32 L386.10,265.93 L386.70,269.88 L387.30,274.19 L387.90,279.17 L388.50,284.34 L389.10,289.16 L389.70,294.05 L390.30,299.60 L390.90,305.79 L391.50,312.33 L392.10,318.55 L392.70,324.68 L393.30,330.49 L393.90,335.51 L394.50,341.47 L395.10,347.41 L395.70,351.25 L396.30,355.11 L396.90,359.54 L397.50,362.22 L398.10,363.83 L398.70,365.71 L399.30,366.77 L399.90,367.56 L400.50,368.68 L401.10,369.35 L401.70,369.85 L402.30,370.38 L402.90,370.84 L403.50,371.25 L404.10,371.56 L404.70,371.75 L405.30,371.83 L405.90,371.92 L406.50,372.08 L407.10,372.24 L407.70,372.33 L408.30,372.33 L408.90,372.31 L409.50,372.31 L410.10,372.31 L410.70,372.32 L411.30,372.33 L411.90,372.34 L412.50,372.34 L413.10,372.34 L413.70,372.33 L414.30,372.33 L414.90,372.34 L415.50,372.39 L416.10,372.42 L416.70,372.40 L417.30,372.36 L417.90,372.36 L418.50,372.36 L419.10,372.35 L419.70,372.35 L420.30,372.37 L420.90,372.37 L421.50,372.40 L422.10,372.40 L422.70,372.38 L423.30,372.37 L423.90,372.37 L424.50,372.38 L425.10,372.40 L425.70,372.41 L426.30,372.41 L426.90,372.41 L427.50,372.41 L428.10,372.41 L428.70,372.40 L429.30,372.42 L429.90,372.44 L430.50,372.44 L431.10,372.42 L431.70,372.43 L432.30,372.44 L432.90,372.44 L433.50,372.43 L434.10,372.43 L434.70,372.44 L435.30,372.44 L435.90,372.44 L436.50,372.44 L437.10,372.45 L437.70,372.46 L438.30,372.46 L438.90,372.45 L439.50,372.45 L440.10,372.46 L440.70,372.46 L441.30,372.45 L441.90,372.45 L442.50,372.45 L443.10,372.45 L443.70,372.45 L444.30,372.46 L444.90,372.46 L445.50,372.46 L446.10,372.47 L446.70,372.47 L447.30,372.47 L447.90,372.47 L448.50,372.47 L449.10,372.47 L449.70,372.47 L450.30,372.48 L450.90,372.48 L451.50,372.48 L452.10,372.48 L452.70,372.48 L453.30,372.48 L453.90,372.48 L454.50,372.48 L455.10,372.48 L455.70,372.48 L456.30,372.48 L456.90,372.49 L457.50,372.49 L458.10,372.49 L458.70,372.49 L459.30,372.49 L459.90,372.49 L460.50,372.49 L461.10,372.49 L461.70,372.49 L462.30,372.49 L462.90,372.49 L463.50,372.49 L464.10,372.49 L464.70,372.49 L465.30,372.49 L465.90,372.49 L466.50,372.49 L467.10,372.50 L467.70,372.50 L468.30,372.50 L468.90,372.50 L469.50,372.50 L470.10,372.50 L470.70,372.50 L471.30,372.50 L471.90,372.50 L472.50,372.50 L473.10,372.50 L473.70,372.50 L474.30,372.50 L474.90,372.50 L475.50,372.50 L476.10,372.50 L476.70,372.50 L477.30,372.50 L477.90,372.50 L478.50,372.50 L479.10,372.50 L479.70,372.50 L480.30,372.50 L480.90,372.50 L481.50,372.50 L482.10,372.50 L482.70,372.50 L483.30,372.50 L483.90,372.50 L484.50,372.50 L485.10,372.50 L485.70,372.50" fill="none" stroke="#e41414" stroke-width="1.2" stroke-linejoin="round"/>
<path d="M343.50,372.50 L344.10,372.50 L344.70,372.50 L345.30,372.50 L345.90,372.50 L346.50,372.50 L347.10,372.50 L347.70,372.50 L348.30,372.50 L348.90,372.50 L349.50,372.50 L350.10,372.50 L350.70,372.50 L351.30,372.50 L351.90,372.50 L352.50,372.50 L353.10,372.50 L353.70,372.50 L354.30,372.50 L354.90,372.50 L355.50,372.50 L356.10,372.50 L356.70,372.50 L357.30,372.50 L357.90,372.50 L358.50,372.50 L359.10,372.50 L359.70,372.50 L360.30,372.50 L360.90,372.50 L361.50,372.50 L362.10,372.50 L362.70,372.50 L363.30,372.50 L363.90,372.50 L364.50,372.50 L365.10,372.50 L365.70,372.50 L366.30,372.44 L366.90,371.98 L367.50,371.05 L368.10,369.88 L368.70,368.66 L369.30,365.20 L369.90,360.22 L370.50,354.33 L371.10,348.85 L371.70,343.37 L372.30,336.62 L372.90,330.33 L373.50,324.05 L374.10,316.63 L374.70,308.99 L375.30,301.26 L375.90,294.05 L376.50,287.08 L377.10,278.99 L377.70,270.10 L378.30,261.56 L378.90,254.42 L379.50,247.22 L380.10,241.39 L380.70,240.22 L381.30,241.07 L381.90,242.13 L382.50,242.41 L383.10,243.11 L383.70,244.60 L384.30,247.43 L384.90,249.67 L385.50,252.11 L386.10,256.41 L386.70,261.92 L387.30,267.08 L387.90,271.88 L388.50,275.74 L389.10,279.42 L389.70,283.40 L390.30,287.81 L390.90,292.31 L391.50,297.02 L392.10,302.89 L392.70,308.86 L393.30,315.12 L393.90,322.63 L394.50,330.22 L395.10,336.71 L395.70,342.46 L396.30,348.13 L396.90,353.05 L397.50,357.17 L398.10,361.43 L398.70,365.09 L399.30,366.59 L399.90,367.64 L400.50,369.12 L401.10,369.77 L401.70,370.20 L402.30,370.61 L402.90,371.01 L403.50,371.45 L404.10,371.74 L404.70,371.92 L405.30,372.01 L405.90,372.07 L406.50,372.17 L407.10,372.22 L407.70,372.25 L408.30,372.29 L408.90,372.25 L409.50,372.22 L410.10,372.26 L410.70,372.27 L411.30,372.25 L411.90,372.25 L412.50,372.27 L413.10,372.29 L413.70,372.29 L414.30,372.28 L414.90,372.29 L415.50,372.31 L416.10,372.28 L416.70,372.23 L417.30,372.24 L417.90,372.27 L418.50,372.30 L419.10,372.32 L419.70,372.34 L420.30,372.34 L420.90,372.33 L421.50,372.34 L422.10,372.36 L422.70,372.34 L423.30,372.35 L423.90,372.37 L424.50,372.35 L425.10,372.33 L425.70,372.35 L426.30,372.36 L426.90,372.37 L427.50,372.38 L428.10,372.38 L428.70,372.38 L429.30,372.39 L429.90,372.39 L430.50,372.39 L431.10,372.39 L431.70,372.40 L432.30,372.39 L432.90,372.39 L433.50,372.40 L434.10,372.39 L434.70,372.40 L435.30,372.42 L435.90,372.42 L436.50,372.41 L437.10,372.42 L437.70,372.42 L438.30,372.42 L438.90,372.42 L439.50,372.43 L440.10,372.43 L440.70,372.44 L441.30,372.43 L441.90,372.43 L442.50,372.43 L443.10,372.45 L443.70,372.45 L444.30,372.44 L444.90,372.45 L445.50,372.45 L446.10,372.45 L446.70,372.44 L447.30,372.45 L447.90,372.46 L448.50,372.46 L449.10,372.46 L449.70,372.46 L450.30,372.47 L450.90,372.46 L451.50,372.46 L452.10,372.46 L452.70,372.47 L453.30,372.47 L453.90,372.47 L454.50,372.47 L455.10,372.47 L455.70,372.48 L456.30,372.48 L456.90,372.48 L457.50,372.48 L458.10,372.48 L458.70,372.48 L459.30,372.48 L459.90,372.48 L460.50,372.49 L461.10,372.49 L461.70,372.49 L462.30,372.49 L462.90,372.49 L463.50,372.49 L464.10,372.49 L464.70,372.49 L465.30,372.49 L465.90,372.49 L466.50,372.49 L467.10,372.49 L467.70,372.49 L468.30,372.49 L468.90,372.49 L469.50,372.49 L470.10,372.50 L470.70,372.50 L471.30,372.50 L471.90,372.50 L472.50,372.50 L473.10,372.50 L473.70,372.50 L474.30,372.50 L474.90,372.50 L475.50,372.50 L476.10,372.50 L476.70,372.50 L477.30,372.50 L477.90,372.50 L478.50,372.50 L479.10,372.50 L479.70,372.50 L480.30,372.50 L480.90,372.50 L481.50,372.50 L482.10,372.50 L482.70,372.50 L483.30,372.50 L483.90,372.50 L484.50,372.50 L485.10,372.50 L485.70,372.50" fill="none" stroke="#1a1a1a" stroke-width="1.2" stroke-linejoin="round"/>
<line x1="343.5" y1="372.5" x2="486.3" y2="372.5" stroke="#333" stroke-width="1"/>
<text x="411.7" y="409.5" font-size="10.4" font-weight="bold" text-anchor="middle" fill="#000" stroke="#000" stroke-width="0.4" textLength="64" lengthAdjust="spacingAndGlyphs">CD86 PE-Cy5</text>
<text transform="translate(298.4,295.3) rotate(-90)" font-size="10.2" font-weight="bold" text-anchor="middle" stroke="#000" stroke-width="0.4">Unit distribution</text>
<rect x="278.4" y="33.9" width="86.6" height="112.9" fill="none" stroke="#000" stroke-width="1.8"/>
<rect x="291.6" y="46.70" width="15.8" height="9.5" fill="#a6d2f6" stroke="#222" stroke-width="1"/>
<text x="313.3" y="53.9" font-size="9.3" font-weight="normal" text-anchor="start" fill="#111"  stroke="#111" stroke-width="0.22" textLength="37.15" lengthAdjust="spacingAndGlyphs">Day +12</text>
<rect x="291.6" y="61.60" width="15.8" height="9.5" fill="#c2119c" stroke="#222" stroke-width="1"/>
<text x="313.3" y="66.9" font-size="9.3" font-weight="normal" text-anchor="start" fill="#111"  stroke="#111" stroke-width="0.22" textLength="31.64" lengthAdjust="spacingAndGlyphs">Day +9</text>
<rect x="291.6" y="74.00" width="15.8" height="9.5" fill="#a06612" stroke="#222" stroke-width="1"/>
<text x="313.3" y="79.9" font-size="9.3" font-weight="normal" text-anchor="start" fill="#111"  stroke="#111" stroke-width="0.22" textLength="31.64" lengthAdjust="spacingAndGlyphs">Day +7</text>
<rect x="291.6" y="87.40" width="15.8" height="9.5" fill="#3c6aee" stroke="#222" stroke-width="1"/>
<text x="313.3" y="93.4" font-size="9.3" font-weight="normal" text-anchor="start" fill="#111"  stroke="#111" stroke-width="0.22" textLength="31.64" lengthAdjust="spacingAndGlyphs">Day +5</text>
<rect x="291.6" y="100.50" width="15.8" height="9.5" fill="#12cc22" stroke="#222" stroke-width="1"/>
<text x="313.3" y="107.4" font-size="9.3" font-weight="normal" text-anchor="start" fill="#111"  stroke="#111" stroke-width="0.22" textLength="31.64" lengthAdjust="spacingAndGlyphs">Day +2</text>
<rect x="291.6" y="114.00" width="15.8" height="9.5" fill="#fa0c0c" stroke="#222" stroke-width="1"/>
<text x="313.3" y="120.7" font-size="9.3" font-weight="normal" text-anchor="start" fill="#111"  stroke="#111" stroke-width="0.22" textLength="37.97" lengthAdjust="spacingAndGlyphs">Baseline</text>
<rect x="291.6" y="127.40" width="15.8" height="9.5" fill="#000" stroke="#222" stroke-width="1"/>
<text x="313.3" y="133.9" font-size="9.3" font-weight="normal" text-anchor="start" fill="#111"  stroke="#111" stroke-width="0.22" textLength="31.92" lengthAdjust="spacingAndGlyphs">Isotype</text>
<line x1="48.8" y1="444.9" x2="48.8" y2="575.5" stroke="#000" stroke-width="2"/>
<line x1="43.8" y1="574.5" x2="293" y2="574.5" stroke="#000" stroke-width="2"/>
<line x1="44" y1="574.50" x2="48" y2="574.50" stroke="#000" stroke-width="1.6"/>
<text x="43.9" y="577.7" font-size="9.1" font-weight="normal" text-anchor="end" fill="#111"  stroke="#111" stroke-width="0.35">0</text>
<line x1="44" y1="561.59" x2="48" y2="561.59" stroke="#000" stroke-width="1.6"/>
<text x="43.9" y="564.79" font-size="9.1" font-weight="normal" text-anchor="end" fill="#111"  stroke="#111" stroke-width="0.35">10</text>
<line x1="44" y1="548.68" x2="48" y2="548.68" stroke="#000" stroke-width="1.6"/>
<text x="43.9" y="551.88" font-size="9.1" font-weight="normal" text-anchor="end" fill="#111"  stroke="#111" stroke-width="0.35">20</text>
<line x1="44" y1="535.77" x2="48" y2="535.77" stroke="#000" stroke-width="1.6"/>
<text x="43.9" y="538.97" font-size="9.1" font-weight="normal" text-anchor="end" fill="#111"  stroke="#111" stroke-width="0.35">30</text>
<line x1="44" y1="522.86" x2="48" y2="522.86" stroke="#000" stroke-width="1.6"/>
<text x="43.9" y="526.06" font-size="9.1" font-weight="normal" text-anchor="end" fill="#111"  stroke="#111" stroke-width="0.35">40</text>
<line x1="44" y1="509.95" x2="48" y2="509.95" stroke="#000" stroke-width="1.6"/>
<text x="43.9" y="513.15" font-size="9.1" font-weight="normal" text-anchor="end" fill="#111"  stroke="#111" stroke-width="0.35">50</text>
<line x1="44" y1="497.04" x2="48" y2="497.04" stroke="#000" stroke-width="1.6"/>
<text x="43.9" y="500.24" font-size="9.1" font-weight="normal" text-anchor="end" fill="#111"  stroke="#111" stroke-width="0.35">60</text>
<line x1="44" y1="484.13" x2="48" y2="484.13" stroke="#000" stroke-width="1.6"/>
<text x="43.9" y="487.33" font-size="9.1" font-weight="normal" text-anchor="end" fill="#111"  stroke="#111" stroke-width="0.35">70</text>
<line x1="44" y1="471.22" x2="48" y2="471.22" stroke="#000" stroke-width="1.6"/>
<text x="43.9" y="474.42" font-size="9.1" font-weight="normal" text-anchor="end" fill="#111"  stroke="#111" stroke-width="0.35">80</text>
<line x1="44" y1="458.31" x2="48" y2="458.31" stroke="#000" stroke-width="1.6"/>
<text x="43.9" y="461.51" font-size="9.1" font-weight="normal" text-anchor="end" fill="#111"  stroke="#111" stroke-width="0.35">90</text>
<line x1="44" y1="445.40" x2="48" y2="445.40" stroke="#000" stroke-width="1.6"/>
<text x="43.9" y="448.6" font-size="9.1" font-weight="normal" text-anchor="end" fill="#111"  stroke="#111" stroke-width="0.35">100</text>
<rect x="52.20" y="486.57" width="4.6" height="87.93" fill="#a4a4a4" stroke="#2a2a2a" stroke-width="1"/>
<rect x="59.55" y="485.53" width="4.6" height="88.97" fill="#a4a4a4" stroke="#2a2a2a" stroke-width="1"/>
<rect x="66.90" y="503.48" width="4.6" height="71.02" fill="#a4a4a4" stroke="#2a2a2a" stroke-width="1"/>
<rect x="74.25" y="539.50" width="4.6" height="35.00" fill="#a4a4a4" stroke="#2a2a2a" stroke-width="1"/>
<rect x="81.60" y="548.92" width="4.6" height="25.58" fill="#a4a4a4" stroke="#2a2a2a" stroke-width="1"/>
<rect x="88.95" y="558.48" width="4.6" height="16.02" fill="#a4a4a4" stroke="#2a2a2a" stroke-width="1"/>
<line x1="73.00" y1="574.5" x2="73.00" y2="578.5" stroke="#000" stroke-width="1.6"/>
<text x="73.0" y="587.2" font-size="9.4" font-weight="bold" text-anchor="middle" fill="#000" stroke="#000" stroke-width="0.4" >CD4</text>
<line x1="51.00" y1="600" x2="87.80" y2="600" stroke="#000" stroke-width="2"/>
<polygon points="83.80,596.2 93.80,600 83.80,603.8" fill="#000"/>
<rect x="101.00" y="539.50" width="4.6" height="35.00" fill="#a4a4a4" stroke="#2a2a2a" stroke-width="1"/>
<rect x="108.35" y="539.50" width="4.6" height="35.00" fill="#a4a4a4" stroke="#2a2a2a" stroke-width="1"/>
<rect x="115.70" y="528.01" width="4.6" height="46.49" fill="#a4a4a4" stroke="#2a2a2a" stroke-width="1"/>
<rect x="123.05" y="490.31" width="4.6" height="84.19" fill="#a4a4a4" stroke="#2a2a2a" stroke-width="1"/>
<rect x="130.40" y="482.69" width="4.6" height="91.81" fill="#a4a4a4" stroke="#2a2a2a" stroke-width="1"/>
<rect x="137.75" y="476.75" width="4.6" height="97.75" fill="#a4a4a4" stroke="#2a2a2a" stroke-width="1"/>
<line x1="121.80" y1="574.5" x2="121.80" y2="578.5" stroke="#000" stroke-width="1.6"/>
<text x="121.8" y="587.2" font-size="9.4" font-weight="bold" text-anchor="middle" fill="#000" stroke="#000" stroke-width="0.4" >CD8</text>
<line x1="100.80" y1="600" x2="137.80" y2="600" stroke="#000" stroke-width="2"/>
<polygon points="133.80,596.2 143.80,600 133.80,603.8" fill="#000"/>
<rect x="157.15" y="569.45" width="4.6" height="5.05" fill="#a4a4a4" stroke="#2a2a2a" stroke-width="1"/>
<rect x="164.50" y="528.52" width="4.6" height="45.98" fill="#a4a4a4" stroke="#2a2a2a" stroke-width="1"/>
<rect x="171.85" y="489.41" width="4.6" height="85.09" fill="#a4a4a4" stroke="#2a2a2a" stroke-width="1"/>
<rect x="179.20" y="512.77" width="4.6" height="61.73" fill="#a4a4a4" stroke="#2a2a2a" stroke-width="1"/>
<rect x="186.55" y="525.81" width="4.6" height="48.69" fill="#a4a4a4" stroke="#2a2a2a" stroke-width="1"/>
<line x1="170.60" y1="574.5" x2="170.60" y2="578.5" stroke="#000" stroke-width="1.6"/>
<text x="170.6" y="587.2" font-size="9.4" font-weight="bold" text-anchor="middle" fill="#000" stroke="#000" stroke-width="0.4" >CD80</text>
<line x1="151.40" y1="601" x2="187.80" y2="601" stroke="#000" stroke-width="2"/>
<polygon points="183.80,597.2 193.80,601 183.80,604.8" fill="#000"/>
<rect x="198.60" y="574.35" width="4.6" height="0.30" fill="#a4a4a4" stroke="#2a2a2a" stroke-width="1"/>
<rect x="205.95" y="572.42" width="4.6" height="2.08" fill="#a4a4a4" stroke="#2a2a2a" stroke-width="1"/>
<rect x="213.30" y="538.08" width="4.6" height="36.42" fill="#a4a4a4" stroke="#2a2a2a" stroke-width="1"/>
<rect x="220.65" y="494.57" width="4.6" height="79.93" fill="#a4a4a4" stroke="#2a2a2a" stroke-width="1"/>
<rect x="228.00" y="494.96" width="4.6" height="79.54" fill="#a4a4a4" stroke="#2a2a2a" stroke-width="1"/>
<rect x="235.35" y="519.49" width="4.6" height="55.01" fill="#a4a4a4" stroke="#2a2a2a" stroke-width="1"/>
<line x1="219.40" y1="574.5" x2="219.40" y2="578.5" stroke="#000" stroke-width="1.6"/>
<text x="219.4" y="587.2" font-size="9.4" font-weight="bold" text-anchor="middle" fill="#000" stroke="#000" stroke-width="0.4" >CD86</text>
<line x1="201.50" y1="601" x2="235.50" y2="601" stroke="#000" stroke-width="2"/>
<polygon points="231.50,597.2 241.50,601 231.50,604.8" fill="#000"/>
<rect x="247.40" y="562.48" width="4.6" height="12.02" fill="#a4a4a4" stroke="#2a2a2a" stroke-width="1"/>
<rect x="254.75" y="557.18" width="4.6" height="17.32" fill="#a4a4a4" stroke="#2a2a2a" stroke-width="1"/>
<rect x="262.10" y="504.51" width="4.6" height="69.99" fill="#a4a4a4" stroke="#2a2a2a" stroke-width="1"/>
<rect x="269.45" y="469.53" width="4.6" height="104.97" fill="#a4a4a4" stroke="#2a2a2a" stroke-width="1"/>
<rect x="276.80" y="459.07" width="4.6" height="115.43" fill="#a4a4a4" stroke="#2a2a2a" stroke-width="1"/>
<rect x="284.15" y="458.68" width="4.6" height="115.82" fill="#a4a4a4" stroke="#2a2a2a" stroke-width="1"/>
<line x1="268.20" y1="574.5" x2="268.20" y2="578.5" stroke="#000" stroke-width="1.6"/>
<text x="268.2" y="587.2" font-size="9.4" font-weight="bold" text-anchor="middle" fill="#000" stroke="#000" stroke-width="0.4" >HLA-DR</text>
<line x1="247.00" y1="600.3" x2="284.50" y2="600.3" stroke="#000" stroke-width="2"/>
<polygon points="280.50,596.5 290.50,600.3 280.50,604.0999999999999" fill="#000"/>
<text x="51" y="621.5" font-size="10.5" font-weight="bold" text-anchor="start" fill="#000" stroke="#000" stroke-width="0.4" >T cell expansion (Timepoints: 0,2,5,7,9,12 days)</text>
<text transform="translate(21.4,509.2) rotate(-90)" font-size="10.8" font-weight="bold" text-anchor="middle" stroke="#000" stroke-width="0.4">Positive cells /CD3+ [%]</text>
<line x1="343.6" y1="446.7" x2="343.6" y2="564.2" stroke="#000" stroke-width="2"/>
<line x1="342.8" y1="563.2" x2="519" y2="563.2" stroke="#000" stroke-width="2"/>
<line x1="339.5" y1="563.20" x2="343.8" y2="563.20" stroke="#000" stroke-width="1.6"/>
<text x="339.3" y="566.2" font-size="9.1" font-weight="normal" text-anchor="end" fill="#111"  stroke="#111" stroke-width="0.35">0</text>
<line x1="339.5" y1="543.87" x2="343.8" y2="543.87" stroke="#000" stroke-width="1.6"/>
<text x="339.3" y="546.87" font-size="9.1" font-weight="normal" text-anchor="end" fill="#111"  stroke="#111" stroke-width="0.35">10</text>
<line x1="339.5" y1="524.53" x2="343.8" y2="524.53" stroke="#000" stroke-width="1.6"/>
<text x="339.3" y="527.53" font-size="9.1" font-weight="normal" text-anchor="end" fill="#111"  stroke="#111" stroke-width="0.35">20</text>
<line x1="339.5" y1="505.20" x2="343.8" y2="505.20" stroke="#000" stroke-width="1.6"/>
<text x="339.3" y="508.2" font-size="9.1" font-weight="normal" text-anchor="end" fill="#111"  stroke="#111" stroke-width="0.35">30</text>
<line x1="339.5" y1="485.87" x2="343.8" y2="485.87" stroke="#000" stroke-width="1.6"/>
<text x="339.3" y="488.87" font-size="9.1" font-weight="normal" text-anchor="end" fill="#111"  stroke="#111" stroke-width="0.35">40</text>
<line x1="339.5" y1="466.53" x2="343.8" y2="466.53" stroke="#000" stroke-width="1.6"/>
<text x="339.3" y="469.53" font-size="9.1" font-weight="normal" text-anchor="end" fill="#111"  stroke="#111" stroke-width="0.35">50</text>
<line x1="339.5" y1="447.20" x2="343.8" y2="447.20" stroke="#000" stroke-width="1.6"/>
<text x="339.3" y="450.2" font-size="9.1" font-weight="normal" text-anchor="end" fill="#111"  stroke="#111" stroke-width="0.35">60</text>
<line x1="350.80" y1="563.2" x2="350.80" y2="567.7" stroke="#000" stroke-width="1.6"/>
<text x="350.8" y="576.7" font-size="9.2" font-weight="bold" text-anchor="middle" fill="#000" stroke="#000" stroke-width="0.4" letter-spacing="-0.4">0</text>
<line x1="364.23" y1="563.2" x2="364.23" y2="567.7" stroke="#000" stroke-width="1.6"/>
<text x="364.23" y="576.7" font-size="9.2" font-weight="bold" text-anchor="middle" fill="#000" stroke="#000" stroke-width="0.4" letter-spacing="-0.4">1</text>
<line x1="377.66" y1="563.2" x2="377.66" y2="567.7" stroke="#000" stroke-width="1.6"/>
<text x="377.66" y="576.7" font-size="9.2" font-weight="bold" text-anchor="middle" fill="#000" stroke="#000" stroke-width="0.4" letter-spacing="-0.4">2</text>
<line x1="391.09" y1="563.2" x2="391.09" y2="567.7" stroke="#000" stroke-width="1.6"/>
<text x="391.09" y="576.7" font-size="9.2" font-weight="bold" text-anchor="middle" fill="#000" stroke="#000" stroke-width="0.4" letter-spacing="-0.4">3</text>
<line x1="404.52" y1="563.2" x2="404.52" y2="567.7" stroke="#000" stroke-width="1.6"/>
<text x="404.52" y="576.7" font-size="9.2" font-weight="bold" text-anchor="middle" fill="#000" stroke="#000" stroke-width="0.4" letter-spacing="-0.4">4</text>
<line x1="417.95" y1="563.2" x2="417.95" y2="567.7" stroke="#000" stroke-width="1.6"/>
<text x="417.95" y="576.7" font-size="9.2" font-weight="bold" text-anchor="middle" fill="#000" stroke="#000" stroke-width="0.4" letter-spacing="-0.4">5</text>
<line x1="431.38" y1="563.2" x2="431.38" y2="567.7" stroke="#000" stroke-width="1.6"/>
<text x="431.38" y="576.7" font-size="9.2" font-weight="bold" text-anchor="middle" fill="#000" stroke="#000" stroke-width="0.4" letter-spacing="-0.4">6</text>
<line x1="444.81" y1="563.2" x2="444.81" y2="567.7" stroke="#000" stroke-width="1.6"/>
<text x="444.81" y="576.7" font-size="9.2" font-weight="bold" text-anchor="middle" fill="#000" stroke="#000" stroke-width="0.4" letter-spacing="-0.4">7</text>
<line x1="458.24" y1="563.2" x2="458.24" y2="567.7" stroke="#000" stroke-width="1.6"/>
<text x="458.24" y="576.7" font-size="9.2" font-weight="bold" text-anchor="middle" fill="#000" stroke="#000" stroke-width="0.4" letter-spacing="-0.4">8</text>
<line x1="471.67" y1="563.2" x2="471.67" y2="567.7" stroke="#000" stroke-width="1.6"/>
<text x="471.67" y="576.7" font-size="9.2" font-weight="bold" text-anchor="middle" fill="#000" stroke="#000" stroke-width="0.4" letter-spacing="-0.4">9</text>
<line x1="485.10" y1="563.2" x2="485.10" y2="567.7" stroke="#000" stroke-width="1.6"/>
<text x="485.1" y="576.7" font-size="9.2" font-weight="bold" text-anchor="middle" fill="#000" stroke="#000" stroke-width="0.4" letter-spacing="-0.4">10</text>
<line x1="498.53" y1="563.2" x2="498.53" y2="567.7" stroke="#000" stroke-width="1.6"/>
<text x="498.53" y="576.7" font-size="9.2" font-weight="bold" text-anchor="middle" fill="#000" stroke="#000" stroke-width="0.4" letter-spacing="-0.4">11</text>
<line x1="511.96" y1="563.2" x2="511.96" y2="567.7" stroke="#000" stroke-width="1.6"/>
<text x="511.96" y="576.7" font-size="9.2" font-weight="bold" text-anchor="middle" fill="#000" stroke="#000" stroke-width="0.4" letter-spacing="-0.4">12</text>
<text x="369.2" y="591.1" font-size="11.1" font-weight="bold" text-anchor="start" fill="#000" stroke="#000" stroke-width="0.4" >T cell expansion [days]</text>
<text transform="translate(320.9,504.3) rotate(-90)" font-size="9.7" font-weight="bold" text-anchor="middle" stroke="#000" stroke-width="0.4">Total cells [x10<tspan dy="-3.8" font-size="7.5">9</tspan><tspan dy="3.8">]</tspan></text>
<polyline points="350.80,560.88 364.23,560.49 377.66,560.11 391.09,559.72 404.52,559.33 417.95,558.95 431.38,557.98 444.81,556.63 458.24,555.27 471.67,553.73 485.10,551.99" fill="none" stroke="#f4b27e" stroke-width="2" stroke-linejoin="round"/>
<polyline points="350.80,558.95 364.23,557.98 377.66,557.01 391.09,555.47 404.52,553.53 417.95,549.67 431.38,541.35 444.81,533.81 458.24,519.12 471.67,506.17 485.10,493.79 498.53,482.77" fill="none" stroke="#000000" stroke-width="2" stroke-linejoin="round"/>
<polyline points="350.80,559.33 364.23,558.95 377.66,558.56 391.09,558.37 404.52,558.37 417.95,554.11 431.38,550.05 444.81,543.67 458.24,541.74 471.67,524.53 485.10,502.69 498.53,472.33" fill="none" stroke="#1a1ad2" stroke-width="2" stroke-linejoin="round"/>
<polyline points="350.80,561.46 364.23,561.27 377.66,561.07 391.09,560.88 404.52,560.49 417.95,558.37 431.38,555.08 444.81,551.60 458.24,550.44 471.67,540.19 485.10,532.85 498.53,506.75 511.96,487.99" fill="none" stroke="#1fb07a" stroke-width="2" stroke-linejoin="round"/>
<polyline points="350.80,557.79 364.23,557.59 377.66,557.40 391.09,557.01 404.52,556.24 417.95,554.89 431.38,543.87 444.81,540.58 458.24,521.44 471.67,514.09 485.10,496.31 498.53,479.68 511.96,462.86" fill="none" stroke="#e41a1a" stroke-width="2" stroke-linejoin="round"/>
<line x1="365.8" y1="452.70" x2="383" y2="452.70" stroke="#000000" stroke-width="2.1"/>
<text x="385.5" y="455.7" font-size="9.2" font-weight="normal" text-anchor="start" fill="#111"  stroke="#111" stroke-width="0.2" textLength="31.6" lengthAdjust="spacingAndGlyphs">Exp 1-3</text>
<line x1="365.8" y1="466.15" x2="383" y2="466.15" stroke="#f4b27e" stroke-width="2.1"/>
<text x="385.5" y="469.15" font-size="9.2" font-weight="normal" text-anchor="start" fill="#111"  stroke="#111" stroke-width="0.2" textLength="23.2" lengthAdjust="spacingAndGlyphs">Exp 4</text>
<line x1="365.8" y1="479.60" x2="383" y2="479.60" stroke="#1a1ad2" stroke-width="2.1"/>
<text x="385.5" y="482.6" font-size="9.2" font-weight="normal" text-anchor="start" fill="#111"  stroke="#111" stroke-width="0.2" textLength="23.2" lengthAdjust="spacingAndGlyphs">Exp 5</text>
<line x1="365.8" y1="493.05" x2="383" y2="493.05" stroke="#1fb07a" stroke-width="2.1"/>
<text x="385.5" y="496.05" font-size="9.2" font-weight="normal" text-anchor="start" fill="#111"  stroke="#111" stroke-width="0.2" textLength="23.2" lengthAdjust="spacingAndGlyphs">Exp 6</text>
<line x1="365.8" y1="506.50" x2="383" y2="506.50" stroke="#e41a1a" stroke-width="2.1"/>
<text x="385.5" y="509.5" font-size="9.2" font-weight="normal" text-anchor="start" fill="#111"  stroke="#111" stroke-width="0.2" textLength="31.6" lengthAdjust="spacingAndGlyphs">Exp 7-9</text>
</g>
</svg></body></html>
